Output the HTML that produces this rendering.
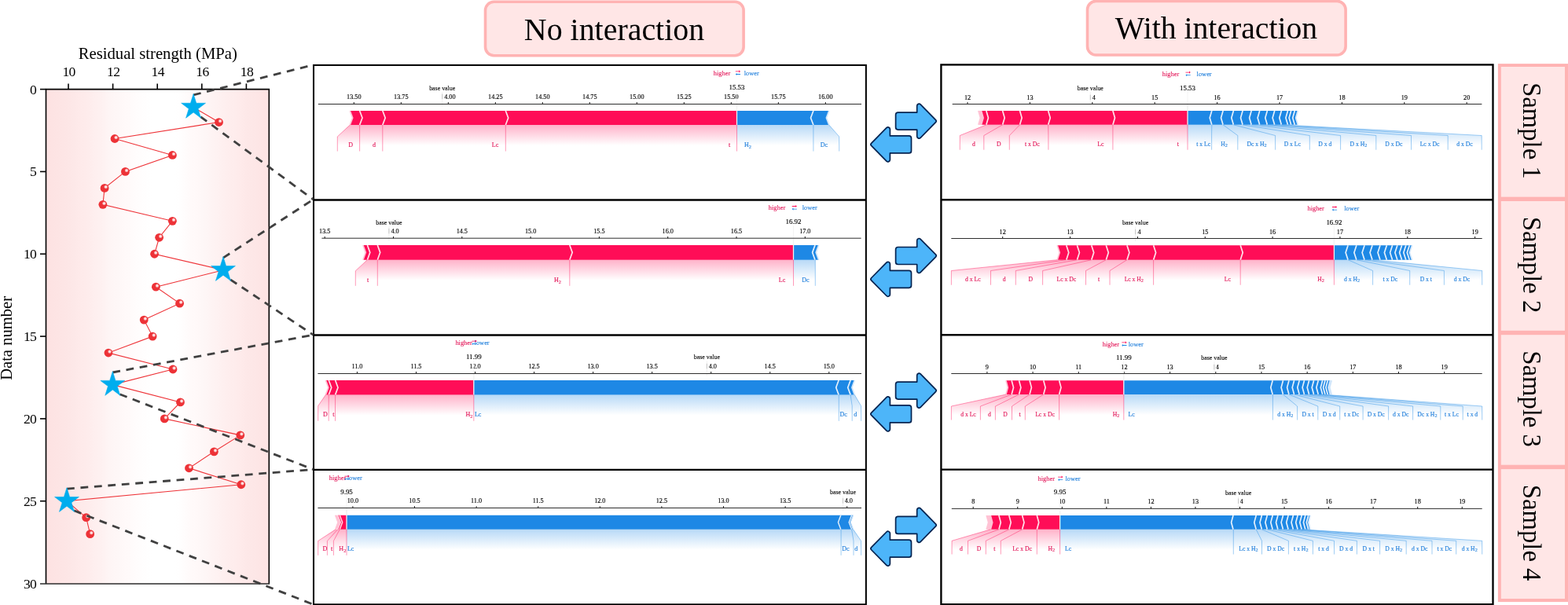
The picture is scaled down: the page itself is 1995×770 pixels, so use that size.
<!DOCTYPE html>
<html lang="en"><head><meta charset="utf-8"><title>SHAP force plots: no interaction vs. with interaction</title>
<style>html,body{margin:0;padding:0;background:#fff;}svg{display:block;}svg text{font-family:'Liberation Serif', serif;}</style></head><body>
<svg width="1995" height="770" viewBox="0 0 1995 770" role="img" aria-label="Residual strength data and SHAP force plots for four samples, without and with feature interaction">
<rect width="1995" height="770" fill="#fff"/>
<defs>
<linearGradient id="bg" x1="0" x2="1" y1="0" y2="0"><stop offset="0.000" stop-color="rgb(253,226,226)"/><stop offset="0.025" stop-color="rgb(253,227,227)"/><stop offset="0.050" stop-color="rgb(253,228,228)"/><stop offset="0.075" stop-color="rgb(253,229,229)"/><stop offset="0.100" stop-color="rgb(253,230,230)"/><stop offset="0.125" stop-color="rgb(253,232,232)"/><stop offset="0.150" stop-color="rgb(254,234,234)"/><stop offset="0.175" stop-color="rgb(254,235,235)"/><stop offset="0.200" stop-color="rgb(254,237,237)"/><stop offset="0.225" stop-color="rgb(254,239,239)"/><stop offset="0.250" stop-color="rgb(254,241,241)"/><stop offset="0.275" stop-color="rgb(254,244,244)"/><stop offset="0.300" stop-color="rgb(254,246,246)"/><stop offset="0.325" stop-color="rgb(254,247,247)"/><stop offset="0.350" stop-color="rgb(255,249,249)"/><stop offset="0.375" stop-color="rgb(255,250,250)"/><stop offset="0.400" stop-color="rgb(255,252,252)"/><stop offset="0.425" stop-color="rgb(255,253,253)"/><stop offset="0.450" stop-color="rgb(255,254,254)"/><stop offset="0.475" stop-color="rgb(255,255,255)"/><stop offset="0.500" stop-color="rgb(255,255,255)"/><stop offset="0.525" stop-color="rgb(255,255,255)"/><stop offset="0.550" stop-color="rgb(255,255,255)"/><stop offset="0.575" stop-color="rgb(255,255,255)"/><stop offset="0.600" stop-color="rgb(255,254,254)"/><stop offset="0.625" stop-color="rgb(255,252,252)"/><stop offset="0.650" stop-color="rgb(255,250,250)"/><stop offset="0.675" stop-color="rgb(255,249,249)"/><stop offset="0.700" stop-color="rgb(254,247,247)"/><stop offset="0.725" stop-color="rgb(254,245,245)"/><stop offset="0.750" stop-color="rgb(254,243,243)"/><stop offset="0.775" stop-color="rgb(254,241,241)"/><stop offset="0.800" stop-color="rgb(254,239,239)"/><stop offset="0.825" stop-color="rgb(254,237,237)"/><stop offset="0.850" stop-color="rgb(254,236,236)"/><stop offset="0.875" stop-color="rgb(254,234,234)"/><stop offset="0.900" stop-color="rgb(253,232,232)"/><stop offset="0.925" stop-color="rgb(253,231,231)"/><stop offset="0.950" stop-color="rgb(253,230,230)"/><stop offset="0.975" stop-color="rgb(253,228,228)"/><stop offset="1.000" stop-color="rgb(253,227,227)"/></linearGradient>
<radialGradient id="ball" cx="0.5" cy="0.5" r="0.5"><stop offset="0" stop-color="#ffffff" stop-opacity="0.95"/><stop offset="0.45" stop-color="#ffffff" stop-opacity="0.8"/><stop offset="1" stop-color="#ffffff" stop-opacity="0"/></radialGradient>
</defs>
<rect x="58.5" y="113.6" width="283.8" height="629.4" fill="url(#bg)"/>
<polyline points="246.1,136.5 278.51,155.53 146.03,176.5 219.39,197.46 159.45,218.43 133.07,239.39 130.87,260.36 219.39,281.32 202.61,302.28 196.55,323.25 284,343.7 198.36,365.18 228.58,386.14 183.22,407.11 194.12,428.08 137.94,449.04 220.01,470 143.3,489.6 229.49,511.93 209.28,532.9 305.79,553.87 272.37,574.83 240.5,595.79 306.81,616.76 85,637.7 109.64,658.69 114.68,679.65" fill="none" stroke="#ee3338" stroke-width="1.1"/>
<circle cx="278.51" cy="155.53" r="5.4" fill="#ed3237"/>
<circle cx="280.11" cy="154.03" r="2.7" fill="url(#ball)"/>
<circle cx="146.03" cy="176.5" r="5.4" fill="#ed3237"/>
<circle cx="147.63" cy="175" r="2.7" fill="url(#ball)"/>
<circle cx="219.39" cy="197.46" r="5.4" fill="#ed3237"/>
<circle cx="220.99" cy="195.96" r="2.7" fill="url(#ball)"/>
<circle cx="159.45" cy="218.43" r="5.4" fill="#ed3237"/>
<circle cx="161.05" cy="216.93" r="2.7" fill="url(#ball)"/>
<circle cx="133.07" cy="239.39" r="5.4" fill="#ed3237"/>
<circle cx="134.67" cy="237.89" r="2.7" fill="url(#ball)"/>
<circle cx="130.87" cy="260.36" r="5.4" fill="#ed3237"/>
<circle cx="132.47" cy="258.86" r="2.7" fill="url(#ball)"/>
<circle cx="219.39" cy="281.32" r="5.4" fill="#ed3237"/>
<circle cx="220.99" cy="279.82" r="2.7" fill="url(#ball)"/>
<circle cx="202.61" cy="302.28" r="5.4" fill="#ed3237"/>
<circle cx="204.21" cy="300.78" r="2.7" fill="url(#ball)"/>
<circle cx="196.55" cy="323.25" r="5.4" fill="#ed3237"/>
<circle cx="198.15" cy="321.75" r="2.7" fill="url(#ball)"/>
<circle cx="198.36" cy="365.18" r="5.4" fill="#ed3237"/>
<circle cx="199.96" cy="363.68" r="2.7" fill="url(#ball)"/>
<circle cx="228.58" cy="386.14" r="5.4" fill="#ed3237"/>
<circle cx="230.18" cy="384.64" r="2.7" fill="url(#ball)"/>
<circle cx="183.22" cy="407.11" r="5.4" fill="#ed3237"/>
<circle cx="184.82" cy="405.61" r="2.7" fill="url(#ball)"/>
<circle cx="194.12" cy="428.08" r="5.4" fill="#ed3237"/>
<circle cx="195.72" cy="426.58" r="2.7" fill="url(#ball)"/>
<circle cx="137.94" cy="449.04" r="5.4" fill="#ed3237"/>
<circle cx="139.54" cy="447.54" r="2.7" fill="url(#ball)"/>
<circle cx="220.01" cy="470" r="5.4" fill="#ed3237"/>
<circle cx="221.61" cy="468.5" r="2.7" fill="url(#ball)"/>
<circle cx="229.49" cy="511.93" r="5.4" fill="#ed3237"/>
<circle cx="231.09" cy="510.43" r="2.7" fill="url(#ball)"/>
<circle cx="209.28" cy="532.9" r="5.4" fill="#ed3237"/>
<circle cx="210.88" cy="531.4" r="2.7" fill="url(#ball)"/>
<circle cx="305.79" cy="553.87" r="5.4" fill="#ed3237"/>
<circle cx="307.39" cy="552.37" r="2.7" fill="url(#ball)"/>
<circle cx="272.37" cy="574.83" r="5.4" fill="#ed3237"/>
<circle cx="273.97" cy="573.33" r="2.7" fill="url(#ball)"/>
<circle cx="240.5" cy="595.79" r="5.4" fill="#ed3237"/>
<circle cx="242.1" cy="594.29" r="2.7" fill="url(#ball)"/>
<circle cx="306.81" cy="616.76" r="5.4" fill="#ed3237"/>
<circle cx="308.41" cy="615.26" r="2.7" fill="url(#ball)"/>
<circle cx="109.64" cy="658.69" r="5.4" fill="#ed3237"/>
<circle cx="111.24" cy="657.19" r="2.7" fill="url(#ball)"/>
<circle cx="114.68" cy="679.65" r="5.4" fill="#ed3237"/>
<circle cx="116.28" cy="678.15" r="2.7" fill="url(#ball)"/>
<path d="M58.5,743 V113.6 H342.3 V743" fill="none" stroke="#000" stroke-width="1.6"/>
<path d="M51,743 H343.1" fill="none" stroke="#2b2b2b" stroke-width="1.5"/>
<line x1="87" y1="113.6" x2="87" y2="106.4" stroke="#000" stroke-width="1.6"/>
<text x="87.6" y="96.8" font-size="17.6" letter-spacing="-0.6" text-anchor="middle">10</text>
<line x1="143.6" y1="113.6" x2="143.6" y2="106.4" stroke="#000" stroke-width="1.6"/>
<text x="144.2" y="96.8" font-size="17.6" letter-spacing="-0.6" text-anchor="middle">12</text>
<line x1="200.2" y1="113.6" x2="200.2" y2="106.4" stroke="#000" stroke-width="1.6"/>
<text x="200.8" y="96.8" font-size="17.6" letter-spacing="-0.6" text-anchor="middle">14</text>
<line x1="256.8" y1="113.6" x2="256.8" y2="106.4" stroke="#000" stroke-width="1.6"/>
<text x="257.4" y="96.8" font-size="17.6" letter-spacing="-0.6" text-anchor="middle">16</text>
<line x1="313.4" y1="113.6" x2="313.4" y2="106.4" stroke="#000" stroke-width="1.6"/>
<text x="314" y="96.8" font-size="17.6" letter-spacing="-0.6" text-anchor="middle">18</text>
<line x1="58.5" y1="113.6" x2="51" y2="113.6" stroke="#000" stroke-width="1.6"/>
<text x="46.3" y="119.6" font-size="17.6" letter-spacing="-0.6" text-anchor="end">0</text>
<line x1="58.5" y1="218.43" x2="51" y2="218.43" stroke="#000" stroke-width="1.6"/>
<text x="46.3" y="224.43" font-size="17.6" letter-spacing="-0.6" text-anchor="end">5</text>
<line x1="58.5" y1="323.25" x2="51" y2="323.25" stroke="#000" stroke-width="1.6"/>
<text x="46.3" y="329.25" font-size="17.6" letter-spacing="-0.6" text-anchor="end">10</text>
<line x1="58.5" y1="428.08" x2="51" y2="428.08" stroke="#000" stroke-width="1.6"/>
<text x="46.3" y="434.08" font-size="17.6" letter-spacing="-0.6" text-anchor="end">15</text>
<line x1="58.5" y1="532.9" x2="51" y2="532.9" stroke="#000" stroke-width="1.6"/>
<text x="46.3" y="538.9" font-size="17.6" letter-spacing="-0.6" text-anchor="end">20</text>
<line x1="58.5" y1="637.73" x2="51" y2="637.73" stroke="#000" stroke-width="1.6"/>
<text x="46.3" y="643.73" font-size="17.6" letter-spacing="-0.6" text-anchor="end">25</text>
<text x="46.3" y="748.55" font-size="17.6" letter-spacing="-0.6" text-anchor="end">30</text>
<text x="200.8" y="74.6" font-size="20.7" text-anchor="middle">Residual strength (MPa)</text>
<text transform="translate(14.5,430.4) rotate(-90)" font-size="20.6" text-anchor="middle">Data number</text>
<rect x="617.5" y="2.2" width="328.6" height="68.6" rx="11" ry="11" fill="#ffe6e6" stroke="#ffb3b3" stroke-width="3.6"/>
<text x="781.5" y="51.0" font-size="39.9" text-anchor="middle">No interaction</text>
<rect x="1383.5" y="1.4" width="328.6" height="68.6" rx="11" ry="11" fill="#ffe6e6" stroke="#ffb3b3" stroke-width="3.6"/>
<text x="1547.5" y="49.0" font-size="39.7" text-anchor="middle">With interaction</text>
<rect x="1905.9" y="81.1" width="95" height="685.0" fill="#ffb3b3"/>
<rect x="1909.8" y="85" width="81.2" height="165.6" fill="#ffe6e6"/>
<rect x="1909.8" y="256" width="81.2" height="164.8" fill="#ffe6e6"/>
<rect x="1909.8" y="426.2" width="81.2" height="165.5" fill="#ffe6e6"/>
<rect x="1909.8" y="597.1" width="81.2" height="164.9" fill="#ffe6e6"/>
<text transform="translate(1938.0,166.4) rotate(90)" font-size="32.7" text-anchor="middle">Sample 1</text>
<text transform="translate(1938.0,337) rotate(90)" font-size="32.7" text-anchor="middle">Sample 2</text>
<text transform="translate(1938.0,507.55) rotate(90)" font-size="32.7" text-anchor="middle">Sample 3</text>
<text transform="translate(1938.0,678.15) rotate(90)" font-size="32.7" text-anchor="middle">Sample 4</text>
<g>
<text x="450.3" y="125.6" font-size="8.2" text-anchor="middle" fill="#000" stroke="#000" stroke-width="0.15">13.50</text>
<line x1="450.3" y1="132.4" x2="450.3" y2="130" stroke="#111" stroke-width="1"/>
<text x="510.3" y="125.6" font-size="8.2" text-anchor="middle" fill="#000" stroke="#000" stroke-width="0.15">13.75</text>
<line x1="510.3" y1="132.4" x2="510.3" y2="130" stroke="#111" stroke-width="1"/>
<text x="570.3" y="125.6" font-size="8.2" text-anchor="middle" fill="#000" stroke="#000" stroke-width="0.15">14.00</text>
<line x1="570.3" y1="132.4" x2="570.3" y2="130" stroke="#111" stroke-width="1"/>
<text x="630.3" y="125.6" font-size="8.2" text-anchor="middle" fill="#000" stroke="#000" stroke-width="0.15">14.25</text>
<line x1="630.3" y1="132.4" x2="630.3" y2="130" stroke="#111" stroke-width="1"/>
<text x="690.3" y="125.6" font-size="8.2" text-anchor="middle" fill="#000" stroke="#000" stroke-width="0.15">14.50</text>
<line x1="690.3" y1="132.4" x2="690.3" y2="130" stroke="#111" stroke-width="1"/>
<text x="750.3" y="125.6" font-size="8.2" text-anchor="middle" fill="#000" stroke="#000" stroke-width="0.15">14.75</text>
<line x1="750.3" y1="132.4" x2="750.3" y2="130" stroke="#111" stroke-width="1"/>
<text x="810.3" y="125.6" font-size="8.2" text-anchor="middle" fill="#000" stroke="#000" stroke-width="0.15">15.00</text>
<line x1="810.3" y1="132.4" x2="810.3" y2="130" stroke="#111" stroke-width="1"/>
<text x="870.3" y="125.6" font-size="8.2" text-anchor="middle" fill="#000" stroke="#000" stroke-width="0.15">15.25</text>
<line x1="870.3" y1="132.4" x2="870.3" y2="130" stroke="#111" stroke-width="1"/>
<text x="930.3" y="125.6" font-size="8.2" text-anchor="middle" fill="#000" stroke="#000" stroke-width="0.15">15.50</text>
<line x1="930.3" y1="132.4" x2="930.3" y2="130" stroke="#111" stroke-width="1"/>
<text x="990.3" y="125.6" font-size="8.2" text-anchor="middle" fill="#000" stroke="#000" stroke-width="0.15">15.75</text>
<line x1="990.3" y1="132.4" x2="990.3" y2="130" stroke="#111" stroke-width="1"/>
<text x="1050.3" y="125.6" font-size="8.2" text-anchor="middle" fill="#000" stroke="#000" stroke-width="0.15">16.00</text>
<line x1="1050.3" y1="132.4" x2="1050.3" y2="130" stroke="#111" stroke-width="1"/>
<line x1="563.1" y1="127.1" x2="563.1" y2="118.6" stroke="#fff" stroke-width="4.2"/>
<line x1="562.7" y1="135.6" x2="562.7" y2="115" stroke="#f2f2f2" stroke-width="1.1"/>
<line x1="562.7" y1="126.1" x2="562.7" y2="119.6" stroke="#c4c4c4" stroke-width="1.0"/>
<rect x="543.7" y="107.5" width="38" height="9.5" fill="#fff"/>
<text x="562.7" y="114.8" font-size="7.9" text-anchor="middle" fill="#000" stroke="#000" stroke-width="0.12">base value</text>
<line x1="937.5" y1="159" x2="937.5" y2="115.8" stroke="#f4f4f4" stroke-width="1.0"/>
<rect x="925.5" y="106.8" width="24" height="9.5" fill="#fff"/>
<text x="937.5" y="114.4" font-size="8.9" text-anchor="middle" fill="#000" stroke="#000" stroke-width="0.15">15.53</text>
<line x1="404.8" y1="132.5" x2="1096" y2="132.5" stroke="#2e2e2e" stroke-width="1"/>
<text x="929.2" y="95.6" font-size="8.4" text-anchor="end" fill="#e3185a" stroke="#e3185a" stroke-width="0.12">higher</text>
<text x="946.8" y="95.6" font-size="8.4" text-anchor="start" fill="#2380dc" stroke="#2380dc" stroke-width="0.12">lower</text>
<g transform="translate(938.9,92.7)">
<path d="M-3.1,-2.2 H1.4 V-3.4 L3.1,-1.8 L1.4,-0.2 V-1.4 H-3.1 Z" fill="#FF0D57"/>
<path d="M3.1,2.2 H-1.4 V3.4 L-3.1,1.8 L-1.4,0.2 V1.4 H3.1 Z" fill="#1E88E5"/>
</g>
<defs><linearGradient id="g1pos" gradientUnits="userSpaceOnUse" x1="0" x2="0" y1="159" y2="185"><stop offset="0" stop-color="#FF0D57" stop-opacity="0.32"/><stop offset="1" stop-color="#FF0D57" stop-opacity="0"/></linearGradient></defs>
<path d="M937.5,159 L445.3,159 L429.3,173.9 L429.3,195.5 L937.5,195.5 Z" fill="url(#g1pos)"/>
<defs><linearGradient id="g1neg" gradientUnits="userSpaceOnUse" x1="0" x2="0" y1="159" y2="185"><stop offset="0" stop-color="#1E88E5" stop-opacity="0.32"/><stop offset="1" stop-color="#1E88E5" stop-opacity="0"/></linearGradient></defs>
<path d="M937.5,159 L1054.8,159 L1067.7,173.9 L1067.7,195.5 L937.5,195.5 Z" fill="url(#g1neg)"/>
<path d="M643.3,141 L937.5,141 L937.5,159 L643.3,159 L646.7,150 Z M486.8,141 L643.3,141 L646.36,150 L643.3,159 L486.8,159 L489.86,150 Z M457.6,141 L486.8,141 L489.86,150 L486.8,159 L457.6,159 L460.66,150 Z M445.3,141 L457.6,141 L460.66,150 L457.6,159 L445.3,159 L448.36,150 Z" fill="#FF0D57"/>
<path d="M643.3,141 L646.7,150 L643.3,159 M486.8,141 L490.2,150 L486.8,159 M457.6,141 L461,150 L457.6,159" fill="none" stroke="#ffe2ea" stroke-width="1.7" stroke-linejoin="miter"/>
<path d="M445.3,141 L448.7,150 L445.3,159" fill="none" stroke="#FFC3D5" stroke-width="1.7" stroke-linejoin="miter"/>
<path d="M1034.9,141 L937.5,141 L937.5,159 L1034.9,159 L1031.5,150 Z M1054.8,141 L1034.9,141 L1031.84,150 L1034.9,159 L1054.8,159 L1051.74,150 Z" fill="#1E88E5"/>
<path d="M1034.9,141 L1031.5,150 L1034.9,159" fill="none" stroke="#e4f0fc" stroke-width="1.7" stroke-linejoin="miter"/>
<path d="M1054.8,141 L1051.4,150 L1054.8,159" fill="none" stroke="#D1E6FA" stroke-width="1.7" stroke-linejoin="miter"/>
<line x1="937.5" y1="159" x2="937.5" y2="133" stroke="#f2f2f2" stroke-width="1.3"/>
<path d="M937.5,159 V192.5 M643.3,159 V192.5 M486.8,159 V192.5 M457.6,159 V192.5 M445.3,159 L429.3,173.9 V192.5" fill="none" stroke="#FF0D57" stroke-opacity="0.6" stroke-width="0.7"/>
<text x="928" y="186.8" font-size="8.0" text-anchor="middle" fill="#e3185a" stroke="#e3185a" stroke-width="0.15">t</text>
<text x="630" y="186.8" font-size="8.0" text-anchor="middle" fill="#e3185a" stroke="#e3185a" stroke-width="0.15">Lc</text>
<text x="476" y="186.8" font-size="8.0" text-anchor="middle" fill="#e3185a" stroke="#e3185a" stroke-width="0.15">d</text>
<text x="446.2" y="186.8" font-size="8.0" text-anchor="middle" fill="#e3185a" stroke="#e3185a" stroke-width="0.15">D</text>
<path d="M1034.9,159 V192.5 M1054.8,159 L1067.7,173.9 V192.5" fill="none" stroke="#1E88E5" stroke-opacity="0.6" stroke-width="0.7"/>
<text x="951.5" y="186.8" font-size="8.0" text-anchor="middle" fill="#2380dc" stroke="#2380dc" stroke-width="0.15">H<tspan font-size="6.2" dy="1.7">2</tspan></text>
<text x="1048.5" y="186.8" font-size="8.0" text-anchor="middle" fill="#2380dc" stroke="#2380dc" stroke-width="0.15">Dc</text>
</g>
<g>
<text x="413.2" y="296.8" font-size="8.2" text-anchor="middle" fill="#000" stroke="#000" stroke-width="0.15">13.5</text>
<line x1="413.2" y1="303.4" x2="413.2" y2="301" stroke="#111" stroke-width="1"/>
<text x="500.5" y="296.8" font-size="8.2" text-anchor="middle" fill="#000" stroke="#000" stroke-width="0.15">14.0</text>
<line x1="500.5" y1="303.4" x2="500.5" y2="301" stroke="#111" stroke-width="1"/>
<text x="587.8" y="296.8" font-size="8.2" text-anchor="middle" fill="#000" stroke="#000" stroke-width="0.15">14.5</text>
<line x1="587.8" y1="303.4" x2="587.8" y2="301" stroke="#111" stroke-width="1"/>
<text x="675.1" y="296.8" font-size="8.2" text-anchor="middle" fill="#000" stroke="#000" stroke-width="0.15">15.0</text>
<line x1="675.1" y1="303.4" x2="675.1" y2="301" stroke="#111" stroke-width="1"/>
<text x="762.4" y="296.8" font-size="8.2" text-anchor="middle" fill="#000" stroke="#000" stroke-width="0.15">15.5</text>
<line x1="762.4" y1="303.4" x2="762.4" y2="301" stroke="#111" stroke-width="1"/>
<text x="849.7" y="296.8" font-size="8.2" text-anchor="middle" fill="#000" stroke="#000" stroke-width="0.15">16.0</text>
<line x1="849.7" y1="303.4" x2="849.7" y2="301" stroke="#111" stroke-width="1"/>
<text x="937" y="296.8" font-size="8.2" text-anchor="middle" fill="#000" stroke="#000" stroke-width="0.15">16.5</text>
<line x1="937" y1="303.4" x2="937" y2="301" stroke="#111" stroke-width="1"/>
<text x="1024.3" y="296.8" font-size="8.2" text-anchor="middle" fill="#000" stroke="#000" stroke-width="0.15">17.0</text>
<line x1="1024.3" y1="303.4" x2="1024.3" y2="301" stroke="#111" stroke-width="1"/>
<line x1="495.3" y1="298.3" x2="495.3" y2="289.8" stroke="#fff" stroke-width="4.2"/>
<line x1="494.9" y1="306.6" x2="494.9" y2="286" stroke="#f2f2f2" stroke-width="1.1"/>
<line x1="494.9" y1="297.3" x2="494.9" y2="290.8" stroke="#c4c4c4" stroke-width="1.0"/>
<rect x="475.9" y="278.6" width="38" height="9.5" fill="#fff"/>
<text x="494.9" y="285.9" font-size="7.9" text-anchor="middle" fill="#000" stroke="#000" stroke-width="0.12">base value</text>
<line x1="1009.5" y1="330.7" x2="1009.5" y2="286.8" stroke="#f4f4f4" stroke-width="1.0"/>
<rect x="997.5" y="277.4" width="24" height="9.5" fill="#fff"/>
<text x="1009.5" y="285" font-size="8.9" text-anchor="middle" fill="#000" stroke="#000" stroke-width="0.15">16.92</text>
<line x1="409.4" y1="303.2" x2="1095.6" y2="303.2" stroke="#2e2e2e" stroke-width="1"/>
<text x="999.2" y="267.2" font-size="8.4" text-anchor="end" fill="#e3185a" stroke="#e3185a" stroke-width="0.12">higher</text>
<text x="1020.8" y="267.2" font-size="8.4" text-anchor="start" fill="#2380dc" stroke="#2380dc" stroke-width="0.12">lower</text>
<g transform="translate(1010.8,264.3)">
<path d="M-3.1,-2.2 H1.4 V-3.4 L3.1,-1.8 L1.4,-0.2 V-1.4 H-3.1 Z" fill="#FF0D57"/>
<path d="M3.1,2.2 H-1.4 V3.4 L-3.1,1.8 L-1.4,0.2 V1.4 H3.1 Z" fill="#1E88E5"/>
</g>
<defs><linearGradient id="g2pos" gradientUnits="userSpaceOnUse" x1="0" x2="0" y1="330.7" y2="356.7"><stop offset="0" stop-color="#FF0D57" stop-opacity="0.32"/><stop offset="1" stop-color="#FF0D57" stop-opacity="0"/></linearGradient></defs>
<path d="M1009.5,330.7 L467.4,330.7 L452.3,344.8 L452.3,366.8 L1009.5,366.8 Z" fill="url(#g2pos)"/>
<defs><linearGradient id="g2neg" gradientUnits="userSpaceOnUse" x1="0" x2="0" y1="330.7" y2="356.7"><stop offset="0" stop-color="#1E88E5" stop-opacity="0.32"/><stop offset="1" stop-color="#1E88E5" stop-opacity="0"/></linearGradient></defs>
<path d="M1009.5,330.7 L1037.3,330.7 L1037.3,344.8 L1037.3,366.8 L1009.5,366.8 Z" fill="url(#g2neg)"/>
<path d="M724.8,312 L1009.5,312 L1009.5,330.7 L724.8,330.7 L728.2,321.35 Z M480.3,312 L724.8,312 L727.86,321.35 L724.8,330.7 L480.3,330.7 L483.36,321.35 Z M467.4,312 L480.3,312 L483.36,321.35 L480.3,330.7 L467.4,330.7 L470.46,321.35 Z M461.9,312 L467.4,312 L470.46,321.35 L467.4,330.7 L461.9,330.7 L464.96,321.35 Z" fill="#FF0D57"/>
<path d="M724.8,312 L728.2,321.35 L724.8,330.7 M480.3,312 L483.7,321.35 L480.3,330.7 M467.4,312 L470.8,321.35 L467.4,330.7" fill="none" stroke="#ffe2ea" stroke-width="1.7" stroke-linejoin="miter"/>
<path d="M461.9,312 L465.3,321.35 L461.9,330.7" fill="none" stroke="#FFC3D5" stroke-width="1.7" stroke-linejoin="miter"/>
<path d="M1037,312 L1009.5,312 L1009.5,330.7 L1037,330.7 L1033.6,321.35 Z M1041.6,312 L1037,312 L1033.94,321.35 L1037,330.7 L1041.6,330.7 L1038.54,321.35 Z" fill="#1E88E5"/>
<path d="M1037,312 L1033.6,321.35 L1037,330.7" fill="none" stroke="#e4f0fc" stroke-width="1.7" stroke-linejoin="miter"/>
<path d="M1041.6,312 L1038.2,321.35 L1041.6,330.7" fill="none" stroke="#D1E6FA" stroke-width="1.7" stroke-linejoin="miter"/>
<line x1="1009.5" y1="330.7" x2="1009.5" y2="304" stroke="#f2f2f2" stroke-width="1.3"/>
<path d="M1009.5,330.7 V363.8 M724.8,330.7 V363.8 M480.3,330.7 V363.8 M467.4,330.7 L452.3,344.8 V363.8" fill="none" stroke="#FF0D57" stroke-opacity="0.6" stroke-width="0.7"/>
<text x="995" y="359" font-size="8.0" text-anchor="middle" fill="#e3185a" stroke="#e3185a" stroke-width="0.15">Lc</text>
<text x="709.5" y="359" font-size="8.0" text-anchor="middle" fill="#e3185a" stroke="#e3185a" stroke-width="0.15">H<tspan font-size="6.2" dy="1.7">2</tspan></text>
<text x="468.1" y="359" font-size="8.0" text-anchor="middle" fill="#e3185a" stroke="#e3185a" stroke-width="0.15">t</text>
<path d="M1037.3,330.7 V363.8" fill="none" stroke="#1E88E5" stroke-opacity="0.6" stroke-width="0.7"/>
<text x="1025" y="359" font-size="8.0" text-anchor="middle" fill="#2380dc" stroke="#2380dc" stroke-width="0.15">Dc</text>
</g>
<g>
<text x="454.4" y="468.8" font-size="8.2" text-anchor="middle" fill="#000" stroke="#000" stroke-width="0.15">11.0</text>
<line x1="454.4" y1="475.4" x2="454.4" y2="473" stroke="#111" stroke-width="1"/>
<text x="529.45" y="468.8" font-size="8.2" text-anchor="middle" fill="#000" stroke="#000" stroke-width="0.15">11.5</text>
<line x1="529.45" y1="475.4" x2="529.45" y2="473" stroke="#111" stroke-width="1"/>
<text x="604.5" y="468.8" font-size="8.2" text-anchor="middle" fill="#000" stroke="#000" stroke-width="0.15">12.0</text>
<line x1="604.5" y1="475.4" x2="604.5" y2="473" stroke="#111" stroke-width="1"/>
<text x="679.55" y="468.8" font-size="8.2" text-anchor="middle" fill="#000" stroke="#000" stroke-width="0.15">12.5</text>
<line x1="679.55" y1="475.4" x2="679.55" y2="473" stroke="#111" stroke-width="1"/>
<text x="754.6" y="468.8" font-size="8.2" text-anchor="middle" fill="#000" stroke="#000" stroke-width="0.15">13.0</text>
<line x1="754.6" y1="475.4" x2="754.6" y2="473" stroke="#111" stroke-width="1"/>
<text x="829.65" y="468.8" font-size="8.2" text-anchor="middle" fill="#000" stroke="#000" stroke-width="0.15">13.5</text>
<line x1="829.65" y1="475.4" x2="829.65" y2="473" stroke="#111" stroke-width="1"/>
<text x="904.7" y="468.8" font-size="8.2" text-anchor="middle" fill="#000" stroke="#000" stroke-width="0.15">14.0</text>
<line x1="904.7" y1="475.4" x2="904.7" y2="473" stroke="#111" stroke-width="1"/>
<text x="979.75" y="468.8" font-size="8.2" text-anchor="middle" fill="#000" stroke="#000" stroke-width="0.15">14.5</text>
<line x1="979.75" y1="475.4" x2="979.75" y2="473" stroke="#111" stroke-width="1"/>
<text x="1054.8" y="468.8" font-size="8.2" text-anchor="middle" fill="#000" stroke="#000" stroke-width="0.15">15.0</text>
<line x1="1054.8" y1="475.4" x2="1054.8" y2="473" stroke="#111" stroke-width="1"/>
<line x1="899.8" y1="470.3" x2="899.8" y2="461.8" stroke="#fff" stroke-width="4.2"/>
<line x1="899.4" y1="478.6" x2="899.4" y2="458" stroke="#f2f2f2" stroke-width="1.1"/>
<line x1="899.4" y1="469.3" x2="899.4" y2="462.8" stroke="#c4c4c4" stroke-width="1.0"/>
<rect x="880.4" y="449.9" width="38" height="9.5" fill="#fff"/>
<text x="899.4" y="457.2" font-size="7.9" text-anchor="middle" fill="#000" stroke="#000" stroke-width="0.12">base value</text>
<line x1="602.8" y1="502.4" x2="602.8" y2="458.8" stroke="#f4f4f4" stroke-width="1.0"/>
<rect x="590.8" y="449.2" width="24" height="9.5" fill="#fff"/>
<text x="602.8" y="456.8" font-size="8.9" text-anchor="middle" fill="#000" stroke="#000" stroke-width="0.15">11.99</text>
<line x1="404.4" y1="475.5" x2="1096" y2="475.5" stroke="#2e2e2e" stroke-width="1"/>
<text x="600.8" y="438.8" font-size="8.4" text-anchor="end" fill="#e3185a" stroke="#e3185a" stroke-width="0.12">higher</text>
<text x="603.6" y="438.8" font-size="8.4" text-anchor="start" fill="#2380dc" stroke="#2380dc" stroke-width="0.12">lower</text>
<g transform="translate(603.5,435.9)">
<path d="M-3.1,-2.2 H1.4 V-3.4 L3.1,-1.8 L1.4,-0.2 V-1.4 H-3.1 Z" fill="#FF0D57"/>
<path d="M3.1,2.2 H-1.4 V3.4 L-3.1,1.8 L-1.4,0.2 V1.4 H3.1 Z" fill="#1E88E5"/>
</g>
<defs><linearGradient id="g3pos" gradientUnits="userSpaceOnUse" x1="0" x2="0" y1="502.4" y2="528.4"><stop offset="0" stop-color="#FF0D57" stop-opacity="0.32"/><stop offset="1" stop-color="#FF0D57" stop-opacity="0"/></linearGradient></defs>
<path d="M602.8,502.4 L414.4,502.4 L404.7,516.7 L404.7,538.8 L602.8,538.8 Z" fill="url(#g3pos)"/>
<defs><linearGradient id="g3neg" gradientUnits="userSpaceOnUse" x1="0" x2="0" y1="502.4" y2="528.4"><stop offset="0" stop-color="#1E88E5" stop-opacity="0.32"/><stop offset="1" stop-color="#1E88E5" stop-opacity="0"/></linearGradient></defs>
<path d="M602.8,502.4 L1087.3,502.4 L1095.6,516.7 L1095.6,538.8 L602.8,538.8 Z" fill="url(#g3neg)"/>
<path d="M426.6,484 L602.8,484 L602.8,502.4 L426.6,502.4 L430,493.2 Z M418.3,484 L426.6,484 L429.66,493.2 L426.6,502.4 L418.3,502.4 L421.36,493.2 Z M414.4,484 L418.3,484 L421.36,493.2 L418.3,502.4 L414.4,502.4 L417.46,493.2 Z" fill="#FF0D57"/>
<path d="M426.6,484 L430,493.2 L426.6,502.4 M418.3,484 L421.7,493.2 L418.3,502.4" fill="none" stroke="#ffe2ea" stroke-width="1.7" stroke-linejoin="miter"/>
<path d="M414.4,484 L417.8,493.2 L414.4,502.4" fill="none" stroke="#FFC3D5" stroke-width="1.7" stroke-linejoin="miter"/>
<path d="M1067.1,484 L602.8,484 L602.8,502.4 L1067.1,502.4 L1063.7,493.2 Z M1082.1,484 L1067.1,484 L1064.04,493.2 L1067.1,502.4 L1082.1,502.4 L1079.04,493.2 Z M1087.3,484 L1082.1,484 L1079.04,493.2 L1082.1,502.4 L1087.3,502.4 L1084.24,493.2 Z" fill="#1E88E5"/>
<path d="M1067.1,484 L1063.7,493.2 L1067.1,502.4 M1082.1,484 L1078.7,493.2 L1082.1,502.4" fill="none" stroke="#e4f0fc" stroke-width="1.7" stroke-linejoin="miter"/>
<path d="M1087.3,484 L1083.9,493.2 L1087.3,502.4" fill="none" stroke="#D1E6FA" stroke-width="1.7" stroke-linejoin="miter"/>
<line x1="602.8" y1="502.4" x2="602.8" y2="476" stroke="#f2f2f2" stroke-width="1.3"/>
<path d="M602.8,502.4 V535.8 M426.6,502.4 L426.5,516.7 V535.8 M418.3,502.4 L418.2,516.7 V535.8 M414.4,502.4 L404.7,516.7 V535.8" fill="none" stroke="#FF0D57" stroke-opacity="0.6" stroke-width="0.7"/>
<text x="597" y="530.1" font-size="8.0" text-anchor="middle" fill="#e3185a" stroke="#e3185a" stroke-width="0.15">H<tspan font-size="6.2" dy="1.7">2</tspan></text>
<text x="424.3" y="530.1" font-size="8.0" text-anchor="middle" fill="#e3185a" stroke="#e3185a" stroke-width="0.15">t</text>
<text x="413.9" y="530.1" font-size="8.0" text-anchor="middle" fill="#e3185a" stroke="#e3185a" stroke-width="0.15">D</text>
<path d="M1067.3,502.4 V535.8 M1082.1,502.4 L1084.2,516.7 V535.8 M1087.3,502.4 L1095.6,516.7 V535.8" fill="none" stroke="#1E88E5" stroke-opacity="0.6" stroke-width="0.7"/>
<text x="608.2" y="530.1" font-size="8.0" text-anchor="middle" fill="#2380dc" stroke="#2380dc" stroke-width="0.15">Lc</text>
<text x="1073.2" y="530.1" font-size="8.0" text-anchor="middle" fill="#2380dc" stroke="#2380dc" stroke-width="0.15">Dc</text>
<text x="1088.2" y="530.1" font-size="8.0" text-anchor="middle" fill="#2380dc" stroke="#2380dc" stroke-width="0.15">d</text>
</g>
<g>
<text x="448.9" y="640.1" font-size="8.2" text-anchor="middle" fill="#000" stroke="#000" stroke-width="0.15">10.0</text>
<line x1="448.9" y1="646.6" x2="448.9" y2="644.2" stroke="#111" stroke-width="1"/>
<text x="527.5" y="640.1" font-size="8.2" text-anchor="middle" fill="#000" stroke="#000" stroke-width="0.15">10.5</text>
<line x1="527.5" y1="646.6" x2="527.5" y2="644.2" stroke="#111" stroke-width="1"/>
<text x="606.1" y="640.1" font-size="8.2" text-anchor="middle" fill="#000" stroke="#000" stroke-width="0.15">11.0</text>
<line x1="606.1" y1="646.6" x2="606.1" y2="644.2" stroke="#111" stroke-width="1"/>
<text x="684.7" y="640.1" font-size="8.2" text-anchor="middle" fill="#000" stroke="#000" stroke-width="0.15">11.5</text>
<line x1="684.7" y1="646.6" x2="684.7" y2="644.2" stroke="#111" stroke-width="1"/>
<text x="763.3" y="640.1" font-size="8.2" text-anchor="middle" fill="#000" stroke="#000" stroke-width="0.15">12.0</text>
<line x1="763.3" y1="646.6" x2="763.3" y2="644.2" stroke="#111" stroke-width="1"/>
<text x="841.9" y="640.1" font-size="8.2" text-anchor="middle" fill="#000" stroke="#000" stroke-width="0.15">12.5</text>
<line x1="841.9" y1="646.6" x2="841.9" y2="644.2" stroke="#111" stroke-width="1"/>
<text x="920.5" y="640.1" font-size="8.2" text-anchor="middle" fill="#000" stroke="#000" stroke-width="0.15">13.0</text>
<line x1="920.5" y1="646.6" x2="920.5" y2="644.2" stroke="#111" stroke-width="1"/>
<text x="999.1" y="640.1" font-size="8.2" text-anchor="middle" fill="#000" stroke="#000" stroke-width="0.15">13.5</text>
<line x1="999.1" y1="646.6" x2="999.1" y2="644.2" stroke="#111" stroke-width="1"/>
<text x="1077.7" y="640.1" font-size="8.2" text-anchor="middle" fill="#000" stroke="#000" stroke-width="0.15">14.0</text>
<line x1="1077.7" y1="646.6" x2="1077.7" y2="644.2" stroke="#111" stroke-width="1"/>
<line x1="1072.9" y1="641.6" x2="1072.9" y2="633.1" stroke="#fff" stroke-width="4.2"/>
<line x1="1072.5" y1="650.3" x2="1072.5" y2="629.7" stroke="#f2f2f2" stroke-width="1.1"/>
<line x1="1072.5" y1="640.6" x2="1072.5" y2="634.1" stroke="#c4c4c4" stroke-width="1.0"/>
<rect x="1053.5" y="621.9" width="38" height="9.5" fill="#fff"/>
<text x="1072.5" y="629.2" font-size="7.9" text-anchor="middle" fill="#000" stroke="#000" stroke-width="0.12">base value</text>
<line x1="441" y1="673.8" x2="441" y2="630.5" stroke="#f4f4f4" stroke-width="1.0"/>
<rect x="429" y="621.2" width="24" height="9.5" fill="#fff"/>
<text x="441" y="628.8" font-size="8.9" text-anchor="middle" fill="#000" stroke="#000" stroke-width="0.15">9.95</text>
<line x1="404.4" y1="646.5" x2="1096" y2="646.5" stroke="#2e2e2e" stroke-width="1"/>
<text x="440.2" y="610.8" font-size="8.4" text-anchor="end" fill="#e3185a" stroke="#e3185a" stroke-width="0.12">higher</text>
<text x="441.8" y="610.8" font-size="8.4" text-anchor="start" fill="#2380dc" stroke="#2380dc" stroke-width="0.12">lower</text>
<g transform="translate(441.5,607.9)">
<path d="M-3.1,-2.2 H1.4 V-3.4 L3.1,-1.8 L1.4,-0.2 V-1.4 H-3.1 Z" fill="#FF0D57"/>
<path d="M3.1,2.2 H-1.4 V3.4 L-3.1,1.8 L-1.4,0.2 V1.4 H3.1 Z" fill="#1E88E5"/>
</g>
<defs><linearGradient id="g4pos" gradientUnits="userSpaceOnUse" x1="0" x2="0" y1="673.8" y2="699.8"><stop offset="0" stop-color="#FF0D57" stop-opacity="0.32"/><stop offset="1" stop-color="#FF0D57" stop-opacity="0"/></linearGradient></defs>
<path d="M441,673.8 L427,673.8 L404.7,688.5 L404.7,709.8 L441,709.8 Z" fill="url(#g4pos)"/>
<defs><linearGradient id="g4neg" gradientUnits="userSpaceOnUse" x1="0" x2="0" y1="673.8" y2="699.8"><stop offset="0" stop-color="#1E88E5" stop-opacity="0.32"/><stop offset="1" stop-color="#1E88E5" stop-opacity="0"/></linearGradient></defs>
<path d="M441,673.8 L1085.6,673.8 L1095.6,688.5 L1095.6,709.8 L441,709.8 Z" fill="url(#g4neg)"/>
<path d="M432.3,655.7 L441,655.7 L441,673.8 L432.3,673.8 L435.7,664.75 Z M430,655.7 L432.3,655.7 L435.36,664.75 L432.3,673.8 L430,673.8 L433.06,664.75 Z" fill="#FF0D57"/>
<path d="M426.6,655.7 L430,655.7 L433.06,664.75 L430,673.8 L426.6,673.8 L429.66,664.75 Z" fill="#FFC3D5"/>
<path d="M432.3,655.7 L435.7,664.75 L432.3,673.8" fill="none" stroke="#ffe2ea" stroke-width="1.4" stroke-linejoin="miter"/>
<path d="M430,655.7 L433.4,664.75 L430,673.8 M426.6,655.7 L430,664.75 L426.6,673.8" fill="none" stroke="#FFC3D5" stroke-width="1.4" stroke-linejoin="miter"/>
<path d="M1069.8,655.7 L441,655.7 L441,673.8 L1069.8,673.8 L1066.4,664.75 Z M1083.6,655.7 L1069.8,655.7 L1066.74,664.75 L1069.8,673.8 L1083.6,673.8 L1080.54,664.75 Z M1085.6,655.7 L1083.6,655.7 L1080.54,664.75 L1083.6,673.8 L1085.6,673.8 L1082.54,664.75 Z" fill="#1E88E5"/>
<path d="M1069.8,655.7 L1066.4,664.75 L1069.8,673.8 M1083.6,655.7 L1080.2,664.75 L1083.6,673.8" fill="none" stroke="#e4f0fc" stroke-width="1.4" stroke-linejoin="miter"/>
<path d="M1085.6,655.7 L1082.2,664.75 L1085.6,673.8" fill="none" stroke="#D1E6FA" stroke-width="1.4" stroke-linejoin="miter"/>
<line x1="441" y1="673.8" x2="441" y2="647.2" stroke="#f2f2f2" stroke-width="1.3"/>
<path d="M441,673.8 V706.8 M432.2,673.8 L424.4,688.5 V706.8 M429.6,673.8 L416.4,688.5 V706.8 M427,673.8 L404.7,688.5 V706.8" fill="none" stroke="#FF0D57" stroke-opacity="0.6" stroke-width="0.7"/>
<text x="435.8" y="701.1" font-size="8.0" text-anchor="middle" fill="#e3185a" stroke="#e3185a" stroke-width="0.15">H<tspan font-size="6.2" dy="1.7">2</tspan></text>
<text x="422.1" y="701.1" font-size="8.0" text-anchor="middle" fill="#e3185a" stroke="#e3185a" stroke-width="0.15">t</text>
<text x="413.3" y="701.1" font-size="8.0" text-anchor="middle" fill="#e3185a" stroke="#e3185a" stroke-width="0.15">D</text>
<path d="M1070.1,673.8 V706.8 M1083.6,673.8 L1086,688.5 V706.8 M1085.6,673.8 L1095.6,688.5 V706.8" fill="none" stroke="#1E88E5" stroke-opacity="0.6" stroke-width="0.7"/>
<text x="446.1" y="701.1" font-size="8.0" text-anchor="middle" fill="#2380dc" stroke="#2380dc" stroke-width="0.15">Lc</text>
<text x="1075.8" y="701.1" font-size="8.0" text-anchor="middle" fill="#2380dc" stroke="#2380dc" stroke-width="0.15">Dc</text>
<text x="1089.3" y="701.1" font-size="8.0" text-anchor="middle" fill="#2380dc" stroke="#2380dc" stroke-width="0.15">d</text>
</g>
<g>
<text x="1231" y="126.7" font-size="8.2" text-anchor="middle" fill="#000" stroke="#000" stroke-width="0.15">12</text>
<line x1="1231" y1="132.3" x2="1231" y2="129.9" stroke="#111" stroke-width="1"/>
<text x="1310.4" y="126.7" font-size="8.2" text-anchor="middle" fill="#000" stroke="#000" stroke-width="0.15">13</text>
<line x1="1310.4" y1="132.3" x2="1310.4" y2="129.9" stroke="#111" stroke-width="1"/>
<text x="1389.8" y="126.7" font-size="8.2" text-anchor="middle" fill="#000" stroke="#000" stroke-width="0.15">14</text>
<line x1="1389.8" y1="132.3" x2="1389.8" y2="129.9" stroke="#111" stroke-width="1"/>
<text x="1469.2" y="126.7" font-size="8.2" text-anchor="middle" fill="#000" stroke="#000" stroke-width="0.15">15</text>
<line x1="1469.2" y1="132.3" x2="1469.2" y2="129.9" stroke="#111" stroke-width="1"/>
<text x="1548.6" y="126.7" font-size="8.2" text-anchor="middle" fill="#000" stroke="#000" stroke-width="0.15">16</text>
<line x1="1548.6" y1="132.3" x2="1548.6" y2="129.9" stroke="#111" stroke-width="1"/>
<text x="1628" y="126.7" font-size="8.2" text-anchor="middle" fill="#000" stroke="#000" stroke-width="0.15">17</text>
<line x1="1628" y1="132.3" x2="1628" y2="129.9" stroke="#111" stroke-width="1"/>
<text x="1707.4" y="126.7" font-size="8.2" text-anchor="middle" fill="#000" stroke="#000" stroke-width="0.15">18</text>
<line x1="1707.4" y1="132.3" x2="1707.4" y2="129.9" stroke="#111" stroke-width="1"/>
<text x="1786.8" y="126.7" font-size="8.2" text-anchor="middle" fill="#000" stroke="#000" stroke-width="0.15">19</text>
<line x1="1786.8" y1="132.3" x2="1786.8" y2="129.9" stroke="#111" stroke-width="1"/>
<text x="1866.2" y="126.7" font-size="8.2" text-anchor="middle" fill="#000" stroke="#000" stroke-width="0.15">20</text>
<line x1="1866.2" y1="132.3" x2="1866.2" y2="129.9" stroke="#111" stroke-width="1"/>
<line x1="1387.7" y1="128.2" x2="1387.7" y2="119.7" stroke="#fff" stroke-width="4.2"/>
<line x1="1387.3" y1="135.6" x2="1387.3" y2="115" stroke="#f2f2f2" stroke-width="1.1"/>
<line x1="1387.3" y1="127.2" x2="1387.3" y2="120.7" stroke="#c4c4c4" stroke-width="1.0"/>
<rect x="1368.3" y="107.7" width="38" height="9.5" fill="#fff"/>
<text x="1387.3" y="115" font-size="7.9" text-anchor="middle" fill="#000" stroke="#000" stroke-width="0.12">base value</text>
<line x1="1511" y1="158.8" x2="1511" y2="115.8" stroke="#f4f4f4" stroke-width="1.0"/>
<rect x="1499" y="107" width="24" height="9.5" fill="#fff"/>
<text x="1511" y="114.6" font-size="8.9" text-anchor="middle" fill="#000" stroke="#000" stroke-width="0.15">15.53</text>
<line x1="1211.7" y1="132.5" x2="1885.4" y2="132.5" stroke="#2e2e2e" stroke-width="1"/>
<text x="1500.2" y="96.8" font-size="8.4" text-anchor="end" fill="#e3185a" stroke="#e3185a" stroke-width="0.12">higher</text>
<text x="1522.6" y="96.8" font-size="8.4" text-anchor="start" fill="#2380dc" stroke="#2380dc" stroke-width="0.12">lower</text>
<g transform="translate(1511.6,93.9)">
<path d="M-3.1,-2.2 H1.4 V-3.4 L3.1,-1.8 L1.4,-0.2 V-1.4 H-3.1 Z" fill="#FF0D57"/>
<path d="M3.1,2.2 H-1.4 V3.4 L-3.1,1.8 L-1.4,0.2 V1.4 H3.1 Z" fill="#1E88E5"/>
</g>
<defs><linearGradient id="g5pos" gradientUnits="userSpaceOnUse" x1="0" x2="0" y1="158.8" y2="184.8"><stop offset="0" stop-color="#FF0D57" stop-opacity="0.32"/><stop offset="1" stop-color="#FF0D57" stop-opacity="0"/></linearGradient></defs>
<path d="M1511,158.8 L1254.85,158.8 L1221.3,172.5 L1221.3,193.7 L1511,193.7 Z" fill="url(#g5pos)"/>
<defs><linearGradient id="g5neg" gradientUnits="userSpaceOnUse" x1="0" x2="0" y1="158.8" y2="184.8"><stop offset="0" stop-color="#1E88E5" stop-opacity="0.32"/><stop offset="1" stop-color="#1E88E5" stop-opacity="0"/></linearGradient></defs>
<path d="M1511,158.8 L1630.4,158.8 L1885.2,172.5 L1885.2,193.7 L1511,193.7 Z" fill="url(#g5neg)"/>
<path d="M1415.9,141 L1511,141 L1511,158.8 L1415.9,158.8 L1418.5,149.9 Z M1333.65,141 L1415.9,141 L1418.24,149.9 L1415.9,158.8 L1333.65,158.8 L1335.99,149.9 Z M1297.55,141 L1333.65,141 L1335.99,149.9 L1333.65,158.8 L1297.55,158.8 L1299.89,149.9 Z M1275.6,141 L1297.55,141 L1299.89,149.9 L1297.55,158.8 L1275.6,158.8 L1277.94,149.9 Z M1254.85,141 L1275.6,141 L1277.94,149.9 L1275.6,158.8 L1254.85,158.8 L1257.19,149.9 Z M1248.5,141 L1254.85,141 L1257.19,149.9 L1254.85,158.8 L1248.5,158.8 L1250.84,149.9 Z" fill="#FF0D57"/>
<path d="M1246.6,141 L1248.5,141 L1250.84,149.9 L1248.5,158.8 L1246.6,158.8 L1248.94,149.9 Z M1244.9,141 L1246.6,141 L1248.94,149.9 L1246.6,158.8 L1244.9,158.8 L1247.24,149.9 Z" fill="#FFC3D5"/>
<path d="M1415.9,141 L1418.5,149.9 L1415.9,158.8 M1333.65,141 L1336.25,149.9 L1333.65,158.8 M1297.55,141 L1300.15,149.9 L1297.55,158.8 M1275.6,141 L1278.2,149.9 L1275.6,158.8 M1254.85,141 L1257.45,149.9 L1254.85,158.8" fill="none" stroke="#ffe2ea" stroke-width="1.7" stroke-linejoin="miter"/>
<path d="M1248.5,141 L1251.1,149.9 L1248.5,158.8 M1246.6,141 L1249.2,149.9 L1246.6,158.8 M1244.9,141 L1247.5,149.9 L1244.9,158.8" fill="none" stroke="#FFC3D5" stroke-width="1.7" stroke-linejoin="miter"/>
<path d="M1541.8,141 L1511,141 L1511,158.8 L1541.8,158.8 L1539.2,149.9 Z M1556.1,141 L1541.8,141 L1539.46,149.9 L1541.8,158.8 L1556.1,158.8 L1553.76,149.9 Z M1569.4,141 L1556.1,141 L1553.76,149.9 L1556.1,158.8 L1569.4,158.8 L1567.06,149.9 Z M1581.1,141 L1569.4,141 L1567.06,149.9 L1569.4,158.8 L1581.1,158.8 L1578.76,149.9 Z M1592.2,141 L1581.1,141 L1578.76,149.9 L1581.1,158.8 L1592.2,158.8 L1589.86,149.9 Z M1602.7,141 L1592.2,141 L1589.86,149.9 L1592.2,158.8 L1602.7,158.8 L1600.36,149.9 Z M1612.4,141 L1602.7,141 L1600.36,149.9 L1602.7,158.8 L1612.4,158.8 L1610.06,149.9 Z M1621.7,141 L1612.4,141 L1610.06,149.9 L1612.4,158.8 L1621.7,158.8 L1619.36,149.9 Z M1630.4,141 L1621.7,141 L1619.36,149.9 L1621.7,158.8 L1630.4,158.8 L1628.06,149.9 Z M1638.5,141 L1630.4,141 L1628.06,149.9 L1630.4,158.8 L1638.5,158.8 L1636.16,149.9 Z M1642.7,141 L1638.5,141 L1636.16,149.9 L1638.5,158.8 L1642.7,158.8 L1640.36,149.9 Z M1647.3,141 L1642.7,141 L1640.36,149.9 L1642.7,158.8 L1647.3,158.8 L1644.96,149.9 Z M1651.2,141 L1647.3,141 L1644.96,149.9 L1647.3,158.8 L1651.2,158.8 L1648.86,149.9 Z" fill="#1E88E5"/>
<path d="M1541.8,141 L1539.2,149.9 L1541.8,158.8 M1556.1,141 L1553.5,149.9 L1556.1,158.8 M1569.4,141 L1566.8,149.9 L1569.4,158.8 M1581.1,141 L1578.5,149.9 L1581.1,158.8 M1592.2,141 L1589.6,149.9 L1592.2,158.8 M1602.7,141 L1600.1,149.9 L1602.7,158.8 M1612.4,141 L1609.8,149.9 L1612.4,158.8 M1621.7,141 L1619.1,149.9 L1621.7,158.8 M1630.4,141 L1627.8,149.9 L1630.4,158.8 M1638.5,141 L1635.9,149.9 L1638.5,158.8 M1642.7,141 L1640.1,149.9 L1642.7,158.8 M1647.3,141 L1644.7,149.9 L1647.3,158.8" fill="none" stroke="#e4f0fc" stroke-width="1.7" stroke-linejoin="miter"/>
<path d="M1651.2,141 L1648.6,149.9 L1651.2,158.8" fill="none" stroke="#D1E6FA" stroke-width="1.7" stroke-linejoin="miter"/>
<line x1="1511" y1="158.8" x2="1511" y2="132.9" stroke="#f2f2f2" stroke-width="1.3"/>
<path d="M1511,158.8 V190.7 M1415.9,158.8 V190.7 M1333.65,158.8 L1333.9,172.5 V190.7 M1297.55,158.8 L1284.3,172.5 V190.7 M1275.6,158.8 L1251.8,172.5 V190.7 M1254.85,158.8 L1221.3,172.5 V190.7" fill="none" stroke="#FF0D57" stroke-opacity="0.6" stroke-width="0.7"/>
<text x="1498.7" y="185.5" font-size="7.65" text-anchor="middle" fill="#e3185a" stroke="#e3185a" stroke-width="0.15">t</text>
<text x="1400.3" y="185.5" font-size="7.65" text-anchor="middle" fill="#e3185a" stroke="#e3185a" stroke-width="0.15">Lc</text>
<text x="1313.3" y="185.5" font-size="7.65" text-anchor="middle" fill="#e3185a" stroke="#e3185a" stroke-width="0.15">t x Dc</text>
<text x="1270.7" y="185.5" font-size="7.65" text-anchor="middle" fill="#e3185a" stroke="#e3185a" stroke-width="0.15">D</text>
<text x="1238.8" y="185.5" font-size="7.65" text-anchor="middle" fill="#e3185a" stroke="#e3185a" stroke-width="0.15">d</text>
<path d="M1541.8,158.8 L1541.6,172.5 V190.7 M1556.1,158.8 L1574.8,172.5 V190.7 M1569.4,158.8 L1622.6,172.5 V190.7 M1581.1,158.8 L1666.3,172.5 V190.7 M1592.2,158.8 L1705.6,172.5 V190.7 M1602.7,158.8 L1750.8,172.5 V190.7 M1612.4,158.8 L1795.5,172.5 V190.7 M1621.7,158.8 L1842.2,172.5 V190.7 M1630.4,158.8 L1885.2,172.5 V190.7" fill="none" stroke="#1E88E5" stroke-opacity="0.6" stroke-width="0.7"/>
<text x="1531.2" y="185.5" font-size="7.65" text-anchor="middle" fill="#2380dc" stroke="#2380dc" stroke-width="0.15">t x Lc</text>
<text x="1557.6" y="185.5" font-size="7.65" text-anchor="middle" fill="#2380dc" stroke="#2380dc" stroke-width="0.15">H<tspan font-size="6.2" dy="1.7">2</tspan></text>
<text x="1599" y="185.5" font-size="7.65" text-anchor="middle" fill="#2380dc" stroke="#2380dc" stroke-width="0.15">Dc x H<tspan font-size="6.2" dy="1.7">2</tspan></text>
<text x="1644.3" y="185.5" font-size="7.65" text-anchor="middle" fill="#2380dc" stroke="#2380dc" stroke-width="0.15">D x Lc</text>
<text x="1685.8" y="185.5" font-size="7.65" text-anchor="middle" fill="#2380dc" stroke="#2380dc" stroke-width="0.15">D x d</text>
<text x="1728.4" y="185.5" font-size="7.65" text-anchor="middle" fill="#2380dc" stroke="#2380dc" stroke-width="0.15">D x H<tspan font-size="6.2" dy="1.7">2</tspan></text>
<text x="1773.3" y="185.5" font-size="7.65" text-anchor="middle" fill="#2380dc" stroke="#2380dc" stroke-width="0.15">D x Dc</text>
<text x="1819" y="185.5" font-size="7.65" text-anchor="middle" fill="#2380dc" stroke="#2380dc" stroke-width="0.15">Lc x Dc</text>
<text x="1863.5" y="185.5" font-size="7.65" text-anchor="middle" fill="#2380dc" stroke="#2380dc" stroke-width="0.15">d x Dc</text>
</g>
<g>
<text x="1275.7" y="297.8" font-size="8.2" text-anchor="middle" fill="#000" stroke="#000" stroke-width="0.15">12</text>
<line x1="1275.7" y1="303.4" x2="1275.7" y2="301" stroke="#111" stroke-width="1"/>
<text x="1361.55" y="297.8" font-size="8.2" text-anchor="middle" fill="#000" stroke="#000" stroke-width="0.15">13</text>
<line x1="1361.55" y1="303.4" x2="1361.55" y2="301" stroke="#111" stroke-width="1"/>
<text x="1447.4" y="297.8" font-size="8.2" text-anchor="middle" fill="#000" stroke="#000" stroke-width="0.15">14</text>
<line x1="1447.4" y1="303.4" x2="1447.4" y2="301" stroke="#111" stroke-width="1"/>
<text x="1533.25" y="297.8" font-size="8.2" text-anchor="middle" fill="#000" stroke="#000" stroke-width="0.15">15</text>
<line x1="1533.25" y1="303.4" x2="1533.25" y2="301" stroke="#111" stroke-width="1"/>
<text x="1619.1" y="297.8" font-size="8.2" text-anchor="middle" fill="#000" stroke="#000" stroke-width="0.15">16</text>
<line x1="1619.1" y1="303.4" x2="1619.1" y2="301" stroke="#111" stroke-width="1"/>
<text x="1704.95" y="297.8" font-size="8.2" text-anchor="middle" fill="#000" stroke="#000" stroke-width="0.15">17</text>
<line x1="1704.95" y1="303.4" x2="1704.95" y2="301" stroke="#111" stroke-width="1"/>
<text x="1790.8" y="297.8" font-size="8.2" text-anchor="middle" fill="#000" stroke="#000" stroke-width="0.15">18</text>
<line x1="1790.8" y1="303.4" x2="1790.8" y2="301" stroke="#111" stroke-width="1"/>
<text x="1876.65" y="297.8" font-size="8.2" text-anchor="middle" fill="#000" stroke="#000" stroke-width="0.15">19</text>
<line x1="1876.65" y1="303.4" x2="1876.65" y2="301" stroke="#111" stroke-width="1"/>
<line x1="1445" y1="299.3" x2="1445" y2="290.8" stroke="#fff" stroke-width="4.2"/>
<line x1="1444.6" y1="306.9" x2="1444.6" y2="286.3" stroke="#f2f2f2" stroke-width="1.1"/>
<line x1="1444.6" y1="298.3" x2="1444.6" y2="291.8" stroke="#c4c4c4" stroke-width="1.0"/>
<rect x="1425.6" y="278.9" width="38" height="9.5" fill="#fff"/>
<text x="1444.6" y="286.2" font-size="7.9" text-anchor="middle" fill="#000" stroke="#000" stroke-width="0.12">base value</text>
<line x1="1697.4" y1="330.7" x2="1697.4" y2="287.1" stroke="#f4f4f4" stroke-width="1.0"/>
<rect x="1685.4" y="278.2" width="24" height="9.5" fill="#fff"/>
<text x="1697.4" y="285.8" font-size="8.9" text-anchor="middle" fill="#000" stroke="#000" stroke-width="0.15">16.92</text>
<line x1="1210.3" y1="303.5" x2="1885.7" y2="303.5" stroke="#2e2e2e" stroke-width="1"/>
<text x="1684.9" y="268.2" font-size="8.4" text-anchor="end" fill="#e3185a" stroke="#e3185a" stroke-width="0.12">higher</text>
<text x="1710.2" y="268.2" font-size="8.4" text-anchor="start" fill="#2380dc" stroke="#2380dc" stroke-width="0.12">lower</text>
<g transform="translate(1698,265.3)">
<path d="M-3.1,-2.2 H1.4 V-3.4 L3.1,-1.8 L1.4,-0.2 V-1.4 H-3.1 Z" fill="#FF0D57"/>
<path d="M3.1,2.2 H-1.4 V3.4 L-3.1,1.8 L-1.4,0.2 V1.4 H3.1 Z" fill="#1E88E5"/>
</g>
<defs><linearGradient id="g6pos" gradientUnits="userSpaceOnUse" x1="0" x2="0" y1="330.7" y2="356.7"><stop offset="0" stop-color="#FF0D57" stop-opacity="0.32"/><stop offset="1" stop-color="#FF0D57" stop-opacity="0"/></linearGradient></defs>
<path d="M1697.4,330.7 L1345.2,330.7 L1210.4,344.5 L1210.4,365.7 L1697.4,365.7 Z" fill="url(#g6pos)"/>
<defs><linearGradient id="g6neg" gradientUnits="userSpaceOnUse" x1="0" x2="0" y1="330.7" y2="356.7"><stop offset="0" stop-color="#1E88E5" stop-opacity="0.32"/><stop offset="1" stop-color="#1E88E5" stop-opacity="0"/></linearGradient></defs>
<path d="M1697.4,330.7 L1746.05,330.7 L1885.7,344.5 L1885.7,365.7 L1697.4,365.7 Z" fill="url(#g6neg)"/>
<path d="M1578.2,312.3 L1697.4,312.3 L1697.4,330.7 L1578.2,330.7 L1581.2,321.5 Z M1467.6,312.3 L1578.2,312.3 L1580.9,321.5 L1578.2,330.7 L1467.6,330.7 L1470.3,321.5 Z M1433.9,312.3 L1467.6,312.3 L1470.3,321.5 L1467.6,330.7 L1433.9,330.7 L1436.6,321.5 Z M1407.3,312.3 L1433.9,312.3 L1436.6,321.5 L1433.9,330.7 L1407.3,330.7 L1410,321.5 Z M1388.7,312.3 L1407.3,312.3 L1410,321.5 L1407.3,330.7 L1388.7,330.7 L1391.4,321.5 Z M1370.4,312.3 L1388.7,312.3 L1391.4,321.5 L1388.7,330.7 L1370.4,330.7 L1373.1,321.5 Z M1356.75,312.3 L1370.4,312.3 L1373.1,321.5 L1370.4,330.7 L1356.75,330.7 L1359.45,321.5 Z M1345.2,312.3 L1356.75,312.3 L1359.45,321.5 L1356.75,330.7 L1345.2,330.7 L1347.9,321.5 Z" fill="#FF0D57"/>
<path d="M1578.2,312.3 L1581.2,321.5 L1578.2,330.7 M1467.6,312.3 L1470.6,321.5 L1467.6,330.7 M1433.9,312.3 L1436.9,321.5 L1433.9,330.7 M1407.3,312.3 L1410.3,321.5 L1407.3,330.7 M1388.7,312.3 L1391.7,321.5 L1388.7,330.7 M1370.4,312.3 L1373.4,321.5 L1370.4,330.7 M1356.75,312.3 L1359.75,321.5 L1356.75,330.7" fill="none" stroke="#ffe2ea" stroke-width="1.7" stroke-linejoin="miter"/>
<path d="M1345.2,312.3 L1348.2,321.5 L1345.2,330.7" fill="none" stroke="#FFC3D5" stroke-width="1.7" stroke-linejoin="miter"/>
<path d="M1715.1,312.3 L1697.4,312.3 L1697.4,330.7 L1715.1,330.7 L1712.1,321.5 Z M1725.9,312.3 L1715.1,312.3 L1712.4,321.5 L1715.1,330.7 L1725.9,330.7 L1723.2,321.5 Z M1736.1,312.3 L1725.9,312.3 L1723.2,321.5 L1725.9,330.7 L1736.1,330.7 L1733.4,321.5 Z M1746.05,312.3 L1736.1,312.3 L1733.4,321.5 L1736.1,330.7 L1746.05,330.7 L1743.35,321.5 Z M1756,312.3 L1746.05,312.3 L1743.35,321.5 L1746.05,330.7 L1756,330.7 L1753.3,321.5 Z M1764.4,312.3 L1756,312.3 L1753.3,321.5 L1756,330.7 L1764.4,330.7 L1761.7,321.5 Z M1771.6,312.3 L1764.4,312.3 L1761.7,321.5 L1764.4,330.7 L1771.6,330.7 L1768.9,321.5 Z M1777.9,312.3 L1771.6,312.3 L1768.9,321.5 L1771.6,330.7 L1777.9,330.7 L1775.2,321.5 Z M1783.6,312.3 L1777.9,312.3 L1775.2,321.5 L1777.9,330.7 L1783.6,330.7 L1780.9,321.5 Z M1788.8,312.3 L1783.6,312.3 L1780.9,321.5 L1783.6,330.7 L1788.8,330.7 L1786.1,321.5 Z M1793.3,312.3 L1788.8,312.3 L1786.1,321.5 L1788.8,330.7 L1793.3,330.7 L1790.6,321.5 Z M1796.5,312.3 L1793.3,312.3 L1790.6,321.5 L1793.3,330.7 L1796.5,330.7 L1793.8,321.5 Z" fill="#1E88E5"/>
<path d="M1715.1,312.3 L1712.1,321.5 L1715.1,330.7 M1725.9,312.3 L1722.9,321.5 L1725.9,330.7 M1736.1,312.3 L1733.1,321.5 L1736.1,330.7 M1746.05,312.3 L1743.05,321.5 L1746.05,330.7 M1756,312.3 L1753,321.5 L1756,330.7 M1764.4,312.3 L1761.4,321.5 L1764.4,330.7 M1771.6,312.3 L1768.6,321.5 L1771.6,330.7 M1777.9,312.3 L1774.9,321.5 L1777.9,330.7 M1783.6,312.3 L1780.6,321.5 L1783.6,330.7 M1788.8,312.3 L1785.8,321.5 L1788.8,330.7 M1793.3,312.3 L1790.3,321.5 L1793.3,330.7" fill="none" stroke="#e4f0fc" stroke-width="1.7" stroke-linejoin="miter"/>
<path d="M1796.5,312.3 L1793.5,321.5 L1796.5,330.7" fill="none" stroke="#D1E6FA" stroke-width="1.7" stroke-linejoin="miter"/>
<line x1="1697.4" y1="330.7" x2="1697.4" y2="304" stroke="#f2f2f2" stroke-width="1.3"/>
<path d="M1697.4,330.7 V362.7 M1578.2,330.7 V362.7 M1467.6,330.7 V362.7 M1433.9,330.7 L1412,344.5 V362.7 M1407.3,330.7 L1381.5,344.5 V362.7 M1388.7,330.7 L1326.6,344.5 V362.7 M1370.4,330.7 L1292.3,344.5 V362.7 M1356.75,330.7 L1260.5,344.5 V362.7 M1345.2,330.7 L1210.4,344.5 V362.7" fill="none" stroke="#FF0D57" stroke-opacity="0.6" stroke-width="0.7"/>
<text x="1680.5" y="357.5" font-size="7.65" text-anchor="middle" fill="#e3185a" stroke="#e3185a" stroke-width="0.15">H<tspan font-size="6.2" dy="1.7">2</tspan></text>
<text x="1561.8" y="357.5" font-size="7.65" text-anchor="middle" fill="#e3185a" stroke="#e3185a" stroke-width="0.15">Lc</text>
<text x="1442.8" y="357.5" font-size="7.65" text-anchor="middle" fill="#e3185a" stroke="#e3185a" stroke-width="0.15">Lc x H<tspan font-size="6.2" dy="1.7">2</tspan></text>
<text x="1398" y="357.5" font-size="7.65" text-anchor="middle" fill="#e3185a" stroke="#e3185a" stroke-width="0.15">t</text>
<text x="1356.8" y="357.5" font-size="7.65" text-anchor="middle" fill="#e3185a" stroke="#e3185a" stroke-width="0.15">Lc x Dc</text>
<text x="1311.3" y="357.5" font-size="7.65" text-anchor="middle" fill="#e3185a" stroke="#e3185a" stroke-width="0.15">D</text>
<text x="1277.6" y="357.5" font-size="7.65" text-anchor="middle" fill="#e3185a" stroke="#e3185a" stroke-width="0.15">d</text>
<text x="1237.8" y="357.5" font-size="7.65" text-anchor="middle" fill="#e3185a" stroke="#e3185a" stroke-width="0.15">d x Lc</text>
<path d="M1715.1,330.7 L1746.6,344.5 V362.7 M1725.9,330.7 L1793.7,344.5 V362.7 M1736.1,330.7 L1837.4,344.5 V362.7 M1746.05,330.7 L1885.7,344.5 V362.7" fill="none" stroke="#1E88E5" stroke-opacity="0.6" stroke-width="0.7"/>
<text x="1720" y="357.5" font-size="7.65" text-anchor="middle" fill="#2380dc" stroke="#2380dc" stroke-width="0.15">d x H<tspan font-size="6.2" dy="1.7">2</tspan></text>
<text x="1768.8" y="357.5" font-size="7.65" text-anchor="middle" fill="#2380dc" stroke="#2380dc" stroke-width="0.15">t x Dc</text>
<text x="1814.3" y="357.5" font-size="7.65" text-anchor="middle" fill="#2380dc" stroke="#2380dc" stroke-width="0.15">D x t</text>
<text x="1860" y="357.5" font-size="7.65" text-anchor="middle" fill="#2380dc" stroke="#2380dc" stroke-width="0.15">d x Dc</text>
</g>
<g>
<text x="1255.9" y="469.8" font-size="8.2" text-anchor="middle" fill="#000" stroke="#000" stroke-width="0.15">9</text>
<line x1="1255.9" y1="475.4" x2="1255.9" y2="473" stroke="#111" stroke-width="1"/>
<text x="1314.08" y="469.8" font-size="8.2" text-anchor="middle" fill="#000" stroke="#000" stroke-width="0.15">10</text>
<line x1="1314.08" y1="475.4" x2="1314.08" y2="473" stroke="#111" stroke-width="1"/>
<text x="1372.26" y="469.8" font-size="8.2" text-anchor="middle" fill="#000" stroke="#000" stroke-width="0.15">11</text>
<line x1="1372.26" y1="475.4" x2="1372.26" y2="473" stroke="#111" stroke-width="1"/>
<text x="1430.44" y="469.8" font-size="8.2" text-anchor="middle" fill="#000" stroke="#000" stroke-width="0.15">12</text>
<line x1="1430.44" y1="475.4" x2="1430.44" y2="473" stroke="#111" stroke-width="1"/>
<text x="1488.62" y="469.8" font-size="8.2" text-anchor="middle" fill="#000" stroke="#000" stroke-width="0.15">13</text>
<line x1="1488.62" y1="475.4" x2="1488.62" y2="473" stroke="#111" stroke-width="1"/>
<text x="1546.8" y="469.8" font-size="8.2" text-anchor="middle" fill="#000" stroke="#000" stroke-width="0.15">14</text>
<line x1="1546.8" y1="475.4" x2="1546.8" y2="473" stroke="#111" stroke-width="1"/>
<text x="1604.98" y="469.8" font-size="8.2" text-anchor="middle" fill="#000" stroke="#000" stroke-width="0.15">15</text>
<line x1="1604.98" y1="475.4" x2="1604.98" y2="473" stroke="#111" stroke-width="1"/>
<text x="1663.16" y="469.8" font-size="8.2" text-anchor="middle" fill="#000" stroke="#000" stroke-width="0.15">16</text>
<line x1="1663.16" y1="475.4" x2="1663.16" y2="473" stroke="#111" stroke-width="1"/>
<text x="1721.34" y="469.8" font-size="8.2" text-anchor="middle" fill="#000" stroke="#000" stroke-width="0.15">17</text>
<line x1="1721.34" y1="475.4" x2="1721.34" y2="473" stroke="#111" stroke-width="1"/>
<text x="1779.52" y="469.8" font-size="8.2" text-anchor="middle" fill="#000" stroke="#000" stroke-width="0.15">18</text>
<line x1="1779.52" y1="475.4" x2="1779.52" y2="473" stroke="#111" stroke-width="1"/>
<text x="1837.7" y="469.8" font-size="8.2" text-anchor="middle" fill="#000" stroke="#000" stroke-width="0.15">19</text>
<line x1="1837.7" y1="475.4" x2="1837.7" y2="473" stroke="#111" stroke-width="1"/>
<line x1="1545.3" y1="471.3" x2="1545.3" y2="462.8" stroke="#fff" stroke-width="4.2"/>
<line x1="1544.9" y1="478.9" x2="1544.9" y2="458.3" stroke="#f2f2f2" stroke-width="1.1"/>
<line x1="1544.9" y1="470.3" x2="1544.9" y2="463.8" stroke="#c4c4c4" stroke-width="1.0"/>
<rect x="1525.9" y="450.9" width="38" height="9.5" fill="#fff"/>
<text x="1544.9" y="458.2" font-size="7.9" text-anchor="middle" fill="#000" stroke="#000" stroke-width="0.12">base value</text>
<line x1="1429.8" y1="502" x2="1429.8" y2="459.1" stroke="#f4f4f4" stroke-width="1.0"/>
<rect x="1417.8" y="450.2" width="24" height="9.5" fill="#fff"/>
<text x="1429.8" y="457.8" font-size="8.9" text-anchor="middle" fill="#000" stroke="#000" stroke-width="0.15">11.99</text>
<line x1="1210.3" y1="475.5" x2="1885.7" y2="475.5" stroke="#2e2e2e" stroke-width="1"/>
<text x="1424.1" y="440.6" font-size="8.4" text-anchor="end" fill="#e3185a" stroke="#e3185a" stroke-width="0.12">higher</text>
<text x="1435.8" y="440.6" font-size="8.4" text-anchor="start" fill="#2380dc" stroke="#2380dc" stroke-width="0.12">lower</text>
<g transform="translate(1430.4,437.7)">
<path d="M-3.1,-2.2 H1.4 V-3.4 L3.1,-1.8 L1.4,-0.2 V-1.4 H-3.1 Z" fill="#FF0D57"/>
<path d="M3.1,2.2 H-1.4 V3.4 L-3.1,1.8 L-1.4,0.2 V1.4 H3.1 Z" fill="#1E88E5"/>
</g>
<defs><linearGradient id="g7pos" gradientUnits="userSpaceOnUse" x1="0" x2="0" y1="502" y2="528"><stop offset="0" stop-color="#FF0D57" stop-opacity="0.32"/><stop offset="1" stop-color="#FF0D57" stop-opacity="0"/></linearGradient></defs>
<path d="M1429.8,502 L1279.9,502 L1210.4,517 L1210.4,537.5 L1429.8,537.5 Z" fill="url(#g7pos)"/>
<defs><linearGradient id="g7neg" gradientUnits="userSpaceOnUse" x1="0" x2="0" y1="502" y2="528"><stop offset="0" stop-color="#1E88E5" stop-opacity="0.32"/><stop offset="1" stop-color="#1E88E5" stop-opacity="0"/></linearGradient></defs>
<path d="M1429.8,502 L1682.7,502 L1885.7,517 L1885.7,537.5 L1429.8,537.5 Z" fill="url(#g7neg)"/>
<path d="M1347.6,484.3 L1429.8,484.3 L1429.8,502 L1347.6,502 L1350,493.15 Z M1327.7,484.3 L1347.6,484.3 L1349.76,493.15 L1347.6,502 L1327.7,502 L1329.86,493.15 Z M1310,484.3 L1327.7,484.3 L1329.86,493.15 L1327.7,502 L1310,502 L1312.16,493.15 Z M1296.5,484.3 L1310,484.3 L1312.16,493.15 L1310,502 L1296.5,502 L1298.66,493.15 Z M1287.1,484.3 L1296.5,484.3 L1298.66,493.15 L1296.5,502 L1287.1,502 L1289.26,493.15 Z M1279.9,484.3 L1287.1,484.3 L1289.26,493.15 L1287.1,502 L1279.9,502 L1282.06,493.15 Z" fill="#FF0D57"/>
<path d="M1347.6,484.3 L1350,493.15 L1347.6,502 M1327.7,484.3 L1330.1,493.15 L1327.7,502 M1310,484.3 L1312.4,493.15 L1310,502 M1296.5,484.3 L1298.9,493.15 L1296.5,502 M1287.1,484.3 L1289.5,493.15 L1287.1,502" fill="none" stroke="#ffe2ea" stroke-width="1.7" stroke-linejoin="miter"/>
<path d="M1279.9,484.3 L1282.3,493.15 L1279.9,502" fill="none" stroke="#FFC3D5" stroke-width="1.7" stroke-linejoin="miter"/>
<path d="M1619.2,484.3 L1429.8,484.3 L1429.8,502 L1619.2,502 L1616.8,493.15 Z M1632.5,484.3 L1619.2,484.3 L1617.04,493.15 L1619.2,502 L1632.5,502 L1630.34,493.15 Z M1640,484.3 L1632.5,484.3 L1630.34,493.15 L1632.5,502 L1640,502 L1637.84,493.15 Z M1646.6,484.3 L1640,484.3 L1637.84,493.15 L1640,502 L1646.6,502 L1644.44,493.15 Z M1653.2,484.3 L1646.6,484.3 L1644.44,493.15 L1646.6,502 L1653.2,502 L1651.04,493.15 Z M1659.5,484.3 L1653.2,484.3 L1651.04,493.15 L1653.2,502 L1659.5,502 L1657.34,493.15 Z M1665.6,484.3 L1659.5,484.3 L1657.34,493.15 L1659.5,502 L1665.6,502 L1663.44,493.15 Z M1671.6,484.3 L1665.6,484.3 L1663.44,493.15 L1665.6,502 L1671.6,502 L1669.44,493.15 Z M1677.3,484.3 L1671.6,484.3 L1669.44,493.15 L1671.6,502 L1677.3,502 L1675.14,493.15 Z M1682.7,484.3 L1677.3,484.3 L1675.14,493.15 L1677.3,502 L1682.7,502 L1680.54,493.15 Z M1686,484.3 L1682.7,484.3 L1680.54,493.15 L1682.7,502 L1686,502 L1683.84,493.15 Z M1689.3,484.3 L1686,484.3 L1683.84,493.15 L1686,502 L1689.3,502 L1687.14,493.15 Z M1692.4,484.3 L1689.3,484.3 L1687.14,493.15 L1689.3,502 L1692.4,502 L1690.24,493.15 Z" fill="#1E88E5"/>
<path d="M1694.2,484.3 L1692.4,484.3 L1690.24,493.15 L1692.4,502 L1694.2,502 L1692.04,493.15 Z" fill="#D1E6FA"/>
<path d="M1619.2,484.3 L1616.8,493.15 L1619.2,502 M1632.5,484.3 L1630.1,493.15 L1632.5,502 M1640,484.3 L1637.6,493.15 L1640,502 M1646.6,484.3 L1644.2,493.15 L1646.6,502 M1653.2,484.3 L1650.8,493.15 L1653.2,502 M1659.5,484.3 L1657.1,493.15 L1659.5,502 M1665.6,484.3 L1663.2,493.15 L1665.6,502 M1671.6,484.3 L1669.2,493.15 L1671.6,502 M1677.3,484.3 L1674.9,493.15 L1677.3,502 M1682.7,484.3 L1680.3,493.15 L1682.7,502 M1686,484.3 L1683.6,493.15 L1686,502 M1689.3,484.3 L1686.9,493.15 L1689.3,502" fill="none" stroke="#e4f0fc" stroke-width="1.7" stroke-linejoin="miter"/>
<path d="M1692.4,484.3 L1690,493.15 L1692.4,502 M1694.2,484.3 L1691.8,493.15 L1694.2,502" fill="none" stroke="#D1E6FA" stroke-width="1.7" stroke-linejoin="miter"/>
<line x1="1429.8" y1="502" x2="1429.8" y2="476" stroke="#f2f2f2" stroke-width="1.3"/>
<path d="M1429.8,502 V534.5 M1347.6,502 V534.5 M1327.7,502 L1304.3,517 V534.5 M1310,502 L1287.5,517 V534.5 M1296.5,502 L1266.4,517 V534.5 M1287.1,502 L1247.4,517 V534.5 M1279.9,502 L1210.4,517 V534.5" fill="none" stroke="#FF0D57" stroke-opacity="0.6" stroke-width="0.7"/>
<text x="1420" y="529.6" font-size="7.65" text-anchor="middle" fill="#e3185a" stroke="#e3185a" stroke-width="0.15">H<tspan font-size="6.2" dy="1.7">2</tspan></text>
<text x="1329.5" y="529.6" font-size="7.65" text-anchor="middle" fill="#e3185a" stroke="#e3185a" stroke-width="0.15">Lc x Dc</text>
<text x="1297.6" y="529.6" font-size="7.65" text-anchor="middle" fill="#e3185a" stroke="#e3185a" stroke-width="0.15">t</text>
<text x="1279" y="529.6" font-size="7.65" text-anchor="middle" fill="#e3185a" stroke="#e3185a" stroke-width="0.15">D</text>
<text x="1259" y="529.6" font-size="7.65" text-anchor="middle" fill="#e3185a" stroke="#e3185a" stroke-width="0.15">d</text>
<text x="1232" y="529.6" font-size="7.65" text-anchor="middle" fill="#e3185a" stroke="#e3185a" stroke-width="0.15">d x Lc</text>
<path d="M1619.4,502 V534.5 M1632.5,502 L1650.6,517 V534.5 M1640,502 L1676.8,517 V534.5 M1646.6,502 L1704.7,517 V534.5 M1653.2,502 L1734.1,517 V534.5 M1659.5,502 L1766.6,517 V534.5 M1665.6,502 L1797.6,517 V534.5 M1671.6,502 L1832.8,517 V534.5 M1677.3,502 L1861.2,517 V534.5 M1682.7,502 L1885.7,517 V534.5" fill="none" stroke="#1E88E5" stroke-opacity="0.6" stroke-width="0.7"/>
<text x="1439.6" y="529.6" font-size="7.65" text-anchor="middle" fill="#2380dc" stroke="#2380dc" stroke-width="0.15">Lc</text>
<text x="1635.4" y="529.6" font-size="7.65" text-anchor="middle" fill="#2380dc" stroke="#2380dc" stroke-width="0.15">d x H<tspan font-size="6.2" dy="1.7">2</tspan></text>
<text x="1664.1" y="529.6" font-size="7.65" text-anchor="middle" fill="#2380dc" stroke="#2380dc" stroke-width="0.15">D x t</text>
<text x="1691.2" y="529.6" font-size="7.65" text-anchor="middle" fill="#2380dc" stroke="#2380dc" stroke-width="0.15">D x d</text>
<text x="1719.7" y="529.6" font-size="7.65" text-anchor="middle" fill="#2380dc" stroke="#2380dc" stroke-width="0.15">t x Dc</text>
<text x="1750.7" y="529.6" font-size="7.65" text-anchor="middle" fill="#2380dc" stroke="#2380dc" stroke-width="0.15">D x Dc</text>
<text x="1782.3" y="529.6" font-size="7.65" text-anchor="middle" fill="#2380dc" stroke="#2380dc" stroke-width="0.15">d x Dc</text>
<text x="1815.9" y="529.6" font-size="7.65" text-anchor="middle" fill="#2380dc" stroke="#2380dc" stroke-width="0.15">Dc x H<tspan font-size="6.2" dy="1.7">2</tspan></text>
<text x="1846.9" y="529.6" font-size="7.65" text-anchor="middle" fill="#2380dc" stroke="#2380dc" stroke-width="0.15">t x Lc</text>
<text x="1873.4" y="529.6" font-size="7.65" text-anchor="middle" fill="#2380dc" stroke="#2380dc" stroke-width="0.15">t x d</text>
</g>
<g>
<text x="1238.2" y="640.5" font-size="8.2" text-anchor="middle" fill="#000" stroke="#000" stroke-width="0.15">8</text>
<line x1="1238.2" y1="647.3" x2="1238.2" y2="644.9" stroke="#111" stroke-width="1"/>
<text x="1294.75" y="640.5" font-size="8.2" text-anchor="middle" fill="#000" stroke="#000" stroke-width="0.15">9</text>
<line x1="1294.75" y1="647.3" x2="1294.75" y2="644.9" stroke="#111" stroke-width="1"/>
<text x="1351.3" y="640.5" font-size="8.2" text-anchor="middle" fill="#000" stroke="#000" stroke-width="0.15">10</text>
<line x1="1351.3" y1="647.3" x2="1351.3" y2="644.9" stroke="#111" stroke-width="1"/>
<text x="1407.85" y="640.5" font-size="8.2" text-anchor="middle" fill="#000" stroke="#000" stroke-width="0.15">11</text>
<line x1="1407.85" y1="647.3" x2="1407.85" y2="644.9" stroke="#111" stroke-width="1"/>
<text x="1464.4" y="640.5" font-size="8.2" text-anchor="middle" fill="#000" stroke="#000" stroke-width="0.15">12</text>
<line x1="1464.4" y1="647.3" x2="1464.4" y2="644.9" stroke="#111" stroke-width="1"/>
<text x="1520.95" y="640.5" font-size="8.2" text-anchor="middle" fill="#000" stroke="#000" stroke-width="0.15">13</text>
<line x1="1520.95" y1="647.3" x2="1520.95" y2="644.9" stroke="#111" stroke-width="1"/>
<text x="1577.5" y="640.5" font-size="8.2" text-anchor="middle" fill="#000" stroke="#000" stroke-width="0.15">14</text>
<line x1="1577.5" y1="647.3" x2="1577.5" y2="644.9" stroke="#111" stroke-width="1"/>
<text x="1634.05" y="640.5" font-size="8.2" text-anchor="middle" fill="#000" stroke="#000" stroke-width="0.15">15</text>
<line x1="1634.05" y1="647.3" x2="1634.05" y2="644.9" stroke="#111" stroke-width="1"/>
<text x="1690.6" y="640.5" font-size="8.2" text-anchor="middle" fill="#000" stroke="#000" stroke-width="0.15">16</text>
<line x1="1690.6" y1="647.3" x2="1690.6" y2="644.9" stroke="#111" stroke-width="1"/>
<text x="1747.15" y="640.5" font-size="8.2" text-anchor="middle" fill="#000" stroke="#000" stroke-width="0.15">17</text>
<line x1="1747.15" y1="647.3" x2="1747.15" y2="644.9" stroke="#111" stroke-width="1"/>
<text x="1803.7" y="640.5" font-size="8.2" text-anchor="middle" fill="#000" stroke="#000" stroke-width="0.15">18</text>
<line x1="1803.7" y1="647.3" x2="1803.7" y2="644.9" stroke="#111" stroke-width="1"/>
<text x="1860.25" y="640.5" font-size="8.2" text-anchor="middle" fill="#000" stroke="#000" stroke-width="0.15">19</text>
<line x1="1860.25" y1="647.3" x2="1860.25" y2="644.9" stroke="#111" stroke-width="1"/>
<line x1="1576" y1="642" x2="1576" y2="633.5" stroke="#fff" stroke-width="4.2"/>
<line x1="1575.6" y1="650.6" x2="1575.6" y2="630" stroke="#f2f2f2" stroke-width="1.1"/>
<line x1="1575.6" y1="641" x2="1575.6" y2="634.5" stroke="#c4c4c4" stroke-width="1.0"/>
<rect x="1556.6" y="622.4" width="38" height="9.5" fill="#fff"/>
<text x="1575.6" y="629.7" font-size="7.9" text-anchor="middle" fill="#000" stroke="#000" stroke-width="0.12">base value</text>
<line x1="1348.6" y1="673.8" x2="1348.6" y2="630.8" stroke="#f4f4f4" stroke-width="1.0"/>
<rect x="1336.6" y="621.7" width="24" height="9.5" fill="#fff"/>
<text x="1348.6" y="629.3" font-size="8.9" text-anchor="middle" fill="#000" stroke="#000" stroke-width="0.15">9.95</text>
<line x1="1210.8" y1="647.4" x2="1885.7" y2="647.4" stroke="#2e2e2e" stroke-width="1"/>
<text x="1342" y="611.8" font-size="8.4" text-anchor="end" fill="#e3185a" stroke="#e3185a" stroke-width="0.12">higher</text>
<text x="1355.5" y="611.8" font-size="8.4" text-anchor="start" fill="#2380dc" stroke="#2380dc" stroke-width="0.12">lower</text>
<g transform="translate(1349.2,608.9)">
<path d="M-3.1,-2.2 H1.4 V-3.4 L3.1,-1.8 L1.4,-0.2 V-1.4 H-3.1 Z" fill="#FF0D57"/>
<path d="M3.1,2.2 H-1.4 V3.4 L-3.1,1.8 L-1.4,0.2 V1.4 H3.1 Z" fill="#1E88E5"/>
</g>
<defs><linearGradient id="g8pos" gradientUnits="userSpaceOnUse" x1="0" x2="0" y1="673.8" y2="699.8"><stop offset="0" stop-color="#FF0D57" stop-opacity="0.32"/><stop offset="1" stop-color="#FF0D57" stop-opacity="0"/></linearGradient></defs>
<path d="M1348.6,673.8 L1260.3,673.8 L1211.1,688.3 L1211.1,708.5 L1348.6,708.5 Z" fill="url(#g8pos)"/>
<defs><linearGradient id="g8neg" gradientUnits="userSpaceOnUse" x1="0" x2="0" y1="673.8" y2="699.8"><stop offset="0" stop-color="#1E88E5" stop-opacity="0.32"/><stop offset="1" stop-color="#1E88E5" stop-opacity="0"/></linearGradient></defs>
<path d="M1348.6,673.8 L1656.2,673.8 L1885.7,688.3 L1885.7,708.5 L1348.6,708.5 Z" fill="url(#g8neg)"/>
<path d="M1319.3,656 L1348.6,656 L1348.6,673.8 L1319.3,673.8 L1321.7,664.9 Z M1300.6,656 L1319.3,656 L1321.46,664.9 L1319.3,673.8 L1300.6,673.8 L1302.76,664.9 Z M1283.8,656 L1300.6,656 L1302.76,664.9 L1300.6,673.8 L1283.8,673.8 L1285.96,664.9 Z M1270.9,656 L1283.8,656 L1285.96,664.9 L1283.8,673.8 L1270.9,673.8 L1273.06,664.9 Z M1260.3,656 L1270.9,656 L1273.06,664.9 L1270.9,673.8 L1260.3,673.8 L1262.46,664.9 Z" fill="#FF0D57"/>
<path d="M1257.7,656 L1260.3,656 L1262.46,664.9 L1260.3,673.8 L1257.7,673.8 L1259.86,664.9 Z M1255.2,656 L1257.7,656 L1259.86,664.9 L1257.7,673.8 L1255.2,673.8 L1257.36,664.9 Z" fill="#FFC3D5"/>
<path d="M1319.3,656 L1321.7,664.9 L1319.3,673.8 M1300.6,656 L1303,664.9 L1300.6,673.8 M1283.8,656 L1286.2,664.9 L1283.8,673.8 M1270.9,656 L1273.3,664.9 L1270.9,673.8" fill="none" stroke="#ffe2ea" stroke-width="1.7" stroke-linejoin="miter"/>
<path d="M1260.3,656 L1262.7,664.9 L1260.3,673.8 M1257.7,656 L1260.1,664.9 L1257.7,673.8 M1255.2,656 L1257.6,664.9 L1255.2,673.8" fill="none" stroke="#FFC3D5" stroke-width="1.7" stroke-linejoin="miter"/>
<path d="M1569,656 L1348.6,656 L1348.6,673.8 L1569,673.8 L1566.6,664.9 Z M1598.2,656 L1569,656 L1566.84,664.9 L1569,673.8 L1598.2,673.8 L1596.04,664.9 Z M1605.4,656 L1598.2,656 L1596.04,664.9 L1598.2,673.8 L1605.4,673.8 L1603.24,664.9 Z M1612.3,656 L1605.4,656 L1603.24,664.9 L1605.4,673.8 L1612.3,673.8 L1610.14,664.9 Z M1619.2,656 L1612.3,656 L1610.14,664.9 L1612.3,673.8 L1619.2,673.8 L1617.04,664.9 Z M1625.9,656 L1619.2,656 L1617.04,664.9 L1619.2,673.8 L1625.9,673.8 L1623.74,664.9 Z M1632.5,656 L1625.9,656 L1623.74,664.9 L1625.9,673.8 L1632.5,673.8 L1630.34,664.9 Z M1639.1,656 L1632.5,656 L1630.34,664.9 L1632.5,673.8 L1639.1,673.8 L1636.94,664.9 Z M1645.4,656 L1639.1,656 L1636.94,664.9 L1639.1,673.8 L1645.4,673.8 L1643.24,664.9 Z M1651.1,656 L1645.4,656 L1643.24,664.9 L1645.4,673.8 L1651.1,673.8 L1648.94,664.9 Z M1656.2,656 L1651.1,656 L1648.94,664.9 L1651.1,673.8 L1656.2,673.8 L1654.04,664.9 Z M1660.8,656 L1656.2,656 L1654.04,664.9 L1656.2,673.8 L1660.8,673.8 L1658.64,664.9 Z M1664.7,656 L1660.8,656 L1658.64,664.9 L1660.8,673.8 L1664.7,673.8 L1662.54,664.9 Z M1667.2,656 L1664.7,656 L1662.54,664.9 L1664.7,673.8 L1667.2,673.8 L1665.04,664.9 Z" fill="#1E88E5"/>
<path d="M1569,656 L1566.6,664.9 L1569,673.8 M1598.2,656 L1595.8,664.9 L1598.2,673.8 M1605.4,656 L1603,664.9 L1605.4,673.8 M1612.3,656 L1609.9,664.9 L1612.3,673.8 M1619.2,656 L1616.8,664.9 L1619.2,673.8 M1625.9,656 L1623.5,664.9 L1625.9,673.8 M1632.5,656 L1630.1,664.9 L1632.5,673.8 M1639.1,656 L1636.7,664.9 L1639.1,673.8 M1645.4,656 L1643,664.9 L1645.4,673.8 M1651.1,656 L1648.7,664.9 L1651.1,673.8 M1656.2,656 L1653.8,664.9 L1656.2,673.8 M1660.8,656 L1658.4,664.9 L1660.8,673.8 M1664.7,656 L1662.3,664.9 L1664.7,673.8" fill="none" stroke="#e4f0fc" stroke-width="1.7" stroke-linejoin="miter"/>
<path d="M1667.2,656 L1664.8,664.9 L1667.2,673.8" fill="none" stroke="#D1E6FA" stroke-width="1.7" stroke-linejoin="miter"/>
<line x1="1348.6" y1="673.8" x2="1348.6" y2="647.9" stroke="#f2f2f2" stroke-width="1.3"/>
<path d="M1348.6,673.8 V705.5 M1319.3,673.8 V705.5 M1300.6,673.8 L1273.3,688.3 V705.5 M1283.8,673.8 L1254.3,688.3 V705.5 M1270.9,673.8 L1231.5,688.3 V705.5 M1260.3,673.8 L1211.1,688.3 V705.5" fill="none" stroke="#FF0D57" stroke-opacity="0.6" stroke-width="0.7"/>
<text x="1337.8" y="700.6" font-size="7.65" text-anchor="middle" fill="#e3185a" stroke="#e3185a" stroke-width="0.15">H<tspan font-size="6.2" dy="1.7">2</tspan></text>
<text x="1300.5" y="700.6" font-size="7.65" text-anchor="middle" fill="#e3185a" stroke="#e3185a" stroke-width="0.15">Lc x Dc</text>
<text x="1265.4" y="700.6" font-size="7.65" text-anchor="middle" fill="#e3185a" stroke="#e3185a" stroke-width="0.15">t</text>
<text x="1245.4" y="700.6" font-size="7.65" text-anchor="middle" fill="#e3185a" stroke="#e3185a" stroke-width="0.15">D</text>
<text x="1223" y="700.6" font-size="7.65" text-anchor="middle" fill="#e3185a" stroke="#e3185a" stroke-width="0.15">d</text>
<path d="M1569.3,673.8 V705.5 M1598.2,673.8 L1605.5,688.3 V705.5 M1605.4,673.8 L1639.4,688.3 V705.5 M1612.3,673.8 L1670.4,688.3 V705.5 M1619.2,673.8 L1697.5,688.3 V705.5 M1625.9,673.8 L1726.4,688.3 V705.5 M1632.5,673.8 L1755.6,688.3 V705.5 M1639.1,673.8 L1789.2,688.3 V705.5 M1645.4,673.8 L1822,688.3 V705.5 M1651.1,673.8 L1852.7,688.3 V705.5 M1656.2,673.8 L1885.7,688.3 V705.5" fill="none" stroke="#1E88E5" stroke-opacity="0.6" stroke-width="0.7"/>
<text x="1359.1" y="700.6" font-size="7.65" text-anchor="middle" fill="#2380dc" stroke="#2380dc" stroke-width="0.15">Lc</text>
<text x="1588.5" y="700.6" font-size="7.65" text-anchor="middle" fill="#2380dc" stroke="#2380dc" stroke-width="0.15">Lc x H<tspan font-size="6.2" dy="1.7">2</tspan></text>
<text x="1623.1" y="700.6" font-size="7.65" text-anchor="middle" fill="#2380dc" stroke="#2380dc" stroke-width="0.15">D x Dc</text>
<text x="1655.3" y="700.6" font-size="7.65" text-anchor="middle" fill="#2380dc" stroke="#2380dc" stroke-width="0.15">t x H<tspan font-size="6.2" dy="1.7">2</tspan></text>
<text x="1684" y="700.6" font-size="7.65" text-anchor="middle" fill="#2380dc" stroke="#2380dc" stroke-width="0.15">t x d</text>
<text x="1712.5" y="700.6" font-size="7.65" text-anchor="middle" fill="#2380dc" stroke="#2380dc" stroke-width="0.15">D x d</text>
<text x="1741.2" y="700.6" font-size="7.65" text-anchor="middle" fill="#2380dc" stroke="#2380dc" stroke-width="0.15">D x t</text>
<text x="1773.2" y="700.6" font-size="7.65" text-anchor="middle" fill="#2380dc" stroke="#2380dc" stroke-width="0.15">D x H<tspan font-size="6.2" dy="1.7">2</tspan></text>
<text x="1806.2" y="700.6" font-size="7.65" text-anchor="middle" fill="#2380dc" stroke="#2380dc" stroke-width="0.15">d x Dc</text>
<text x="1837.8" y="700.6" font-size="7.65" text-anchor="middle" fill="#2380dc" stroke="#2380dc" stroke-width="0.15">t x Dc</text>
<text x="1869.7" y="700.6" font-size="7.65" text-anchor="middle" fill="#2380dc" stroke="#2380dc" stroke-width="0.15">d x H<tspan font-size="6.2" dy="1.7">2</tspan></text>
</g>
<g fill="none" stroke="#000">
<rect x="399.0" y="82.9" width="702.85" height="686.4" stroke-width="2.05"/>
<line x1="399.0" y1="254.5" x2="1101.85" y2="254.5" stroke-width="2.3"/>
<line x1="399.0" y1="426.5" x2="1101.85" y2="426.5" stroke-width="2.3"/>
<line x1="399.0" y1="597.8" x2="1101.85" y2="597.8" stroke-width="2.3"/>
<rect x="1197.4" y="82.4" width="702.1" height="686.8" stroke-width="2.35"/>
<line x1="1197.4" y1="254.2" x2="1899.5" y2="254.2" stroke-width="2.4"/>
<line x1="1197.4" y1="426.3" x2="1899.5" y2="426.3" stroke-width="2.4"/>
<line x1="1197.4" y1="597.6" x2="1899.5" y2="597.6" stroke-width="2.4"/>
</g>
<g transform="translate(0,0)" fill="#4db5f9" stroke="#052350" stroke-width="1.7" stroke-linejoin="round">
<path d="M1139.6,146.1 A3,3 0 0 1 1142.6,143.1 L1166.7,143.1 L1166.7,134.75 A2.6,2.6 0 0 1 1171.15,132.92 L1190.48,152.56 A2.2,2.2 0 0 1 1190.48,155.64 L1171.15,175.28 A2.6,2.6 0 0 1 1166.7,173.45 L1166.7,165.1 L1142.6,165.1 A3,3 0 0 1 1139.6,162.1 Z"/>
<path d="M1139.6,146.1 A3,3 0 0 1 1142.6,143.1 L1166.7,143.1 L1166.7,134.75 A2.6,2.6 0 0 1 1171.15,132.92 L1190.48,152.56 A2.2,2.2 0 0 1 1190.48,155.64 L1171.15,175.28 A2.6,2.6 0 0 1 1166.7,173.45 L1166.7,165.1 L1142.6,165.1 A3,3 0 0 1 1139.6,162.1 Z" transform="rotate(180 1149.55 169.0)"/>
</g>
<g transform="translate(0,171.4)" fill="#4db5f9" stroke="#052350" stroke-width="1.7" stroke-linejoin="round">
<path d="M1139.6,146.1 A3,3 0 0 1 1142.6,143.1 L1166.7,143.1 L1166.7,134.75 A2.6,2.6 0 0 1 1171.15,132.92 L1190.48,152.56 A2.2,2.2 0 0 1 1190.48,155.64 L1171.15,175.28 A2.6,2.6 0 0 1 1166.7,173.45 L1166.7,165.1 L1142.6,165.1 A3,3 0 0 1 1139.6,162.1 Z"/>
<path d="M1139.6,146.1 A3,3 0 0 1 1142.6,143.1 L1166.7,143.1 L1166.7,134.75 A2.6,2.6 0 0 1 1171.15,132.92 L1190.48,152.56 A2.2,2.2 0 0 1 1190.48,155.64 L1171.15,175.28 A2.6,2.6 0 0 1 1166.7,173.45 L1166.7,165.1 L1142.6,165.1 A3,3 0 0 1 1139.6,162.1 Z" transform="rotate(180 1149.55 169.0)"/>
</g>
<g transform="translate(0,343)" fill="#4db5f9" stroke="#052350" stroke-width="1.7" stroke-linejoin="round">
<path d="M1139.6,146.1 A3,3 0 0 1 1142.6,143.1 L1166.7,143.1 L1166.7,134.75 A2.6,2.6 0 0 1 1171.15,132.92 L1190.48,152.56 A2.2,2.2 0 0 1 1190.48,155.64 L1171.15,175.28 A2.6,2.6 0 0 1 1166.7,173.45 L1166.7,165.1 L1142.6,165.1 A3,3 0 0 1 1139.6,162.1 Z"/>
<path d="M1139.6,146.1 A3,3 0 0 1 1142.6,143.1 L1166.7,143.1 L1166.7,134.75 A2.6,2.6 0 0 1 1171.15,132.92 L1190.48,152.56 A2.2,2.2 0 0 1 1190.48,155.64 L1171.15,175.28 A2.6,2.6 0 0 1 1166.7,173.45 L1166.7,165.1 L1142.6,165.1 A3,3 0 0 1 1139.6,162.1 Z" transform="rotate(180 1149.55 169.0)"/>
</g>
<g transform="translate(0,514.3)" fill="#4db5f9" stroke="#052350" stroke-width="1.7" stroke-linejoin="round">
<path d="M1139.6,146.1 A3,3 0 0 1 1142.6,143.1 L1166.7,143.1 L1166.7,134.75 A2.6,2.6 0 0 1 1171.15,132.92 L1190.48,152.56 A2.2,2.2 0 0 1 1190.48,155.64 L1171.15,175.28 A2.6,2.6 0 0 1 1166.7,173.45 L1166.7,165.1 L1142.6,165.1 A3,3 0 0 1 1139.6,162.1 Z"/>
<path d="M1139.6,146.1 A3,3 0 0 1 1142.6,143.1 L1166.7,143.1 L1166.7,134.75 A2.6,2.6 0 0 1 1171.15,132.92 L1190.48,152.56 A2.2,2.2 0 0 1 1190.48,155.64 L1171.15,175.28 A2.6,2.6 0 0 1 1166.7,173.45 L1166.7,165.1 L1142.6,165.1 A3,3 0 0 1 1139.6,162.1 Z" transform="rotate(180 1149.55 169.0)"/>
</g>
<line x1="246.1" y1="120.9" x2="398.6" y2="82.6" stroke="#404040" stroke-width="2.8" stroke-dasharray="9.8 7.7"/>
<line x1="255.2" y1="148.6" x2="398.6" y2="253.9" stroke="#404040" stroke-width="2.8" stroke-dasharray="9.8 7.7"/>
<line x1="284" y1="328.1" x2="398.6" y2="253.9" stroke="#404040" stroke-width="2.8" stroke-dasharray="9.8 7.7"/>
<line x1="293.1" y1="355.8" x2="398.6" y2="426.2" stroke="#404040" stroke-width="2.8" stroke-dasharray="9.8 7.7"/>
<line x1="143.3" y1="474" x2="398.6" y2="426.2" stroke="#404040" stroke-width="2.8" stroke-dasharray="9.8 7.7"/>
<line x1="152.4" y1="501.7" x2="398.6" y2="597.5" stroke="#404040" stroke-width="2.8" stroke-dasharray="9.8 7.7"/>
<line x1="85" y1="622.1" x2="398.6" y2="597.5" stroke="#404040" stroke-width="2.8" stroke-dasharray="9.8 7.7"/>
<line x1="94.1" y1="649.8" x2="398.6" y2="769.3" stroke="#404040" stroke-width="2.8" stroke-dasharray="9.8 7.7"/>
<path d="M246.1,119.6 L249.74,131.28 L261.51,131.28 L251.99,138.49 L255.62,150.17 L246.1,142.96 L236.58,150.17 L240.21,138.49 L230.69,131.28 L242.46,131.28Z" fill="#00adee" stroke="#00adee" stroke-width="0.6" stroke-linejoin="miter" stroke-miterlimit="10"/>
<path d="M284,326.8 L287.64,338.48 L299.41,338.48 L289.89,345.69 L293.52,357.37 L284,350.16 L274.48,357.37 L278.11,345.69 L268.59,338.48 L280.36,338.48Z" fill="#00adee" stroke="#00adee" stroke-width="0.6" stroke-linejoin="miter" stroke-miterlimit="10"/>
<path d="M143.3,472.7 L146.94,484.38 L158.71,484.38 L149.19,491.59 L152.82,503.27 L143.3,496.06 L133.78,503.27 L137.41,491.59 L127.89,484.38 L139.66,484.38Z" fill="#00adee" stroke="#00adee" stroke-width="0.6" stroke-linejoin="miter" stroke-miterlimit="10"/>
<path d="M85,620.8 L88.64,632.48 L100.41,632.48 L90.89,639.69 L94.52,651.37 L85,644.16 L75.48,651.37 L79.11,639.69 L69.59,632.48 L81.36,632.48Z" fill="#00adee" stroke="#00adee" stroke-width="0.6" stroke-linejoin="miter" stroke-miterlimit="10"/>
</svg></body></html>
